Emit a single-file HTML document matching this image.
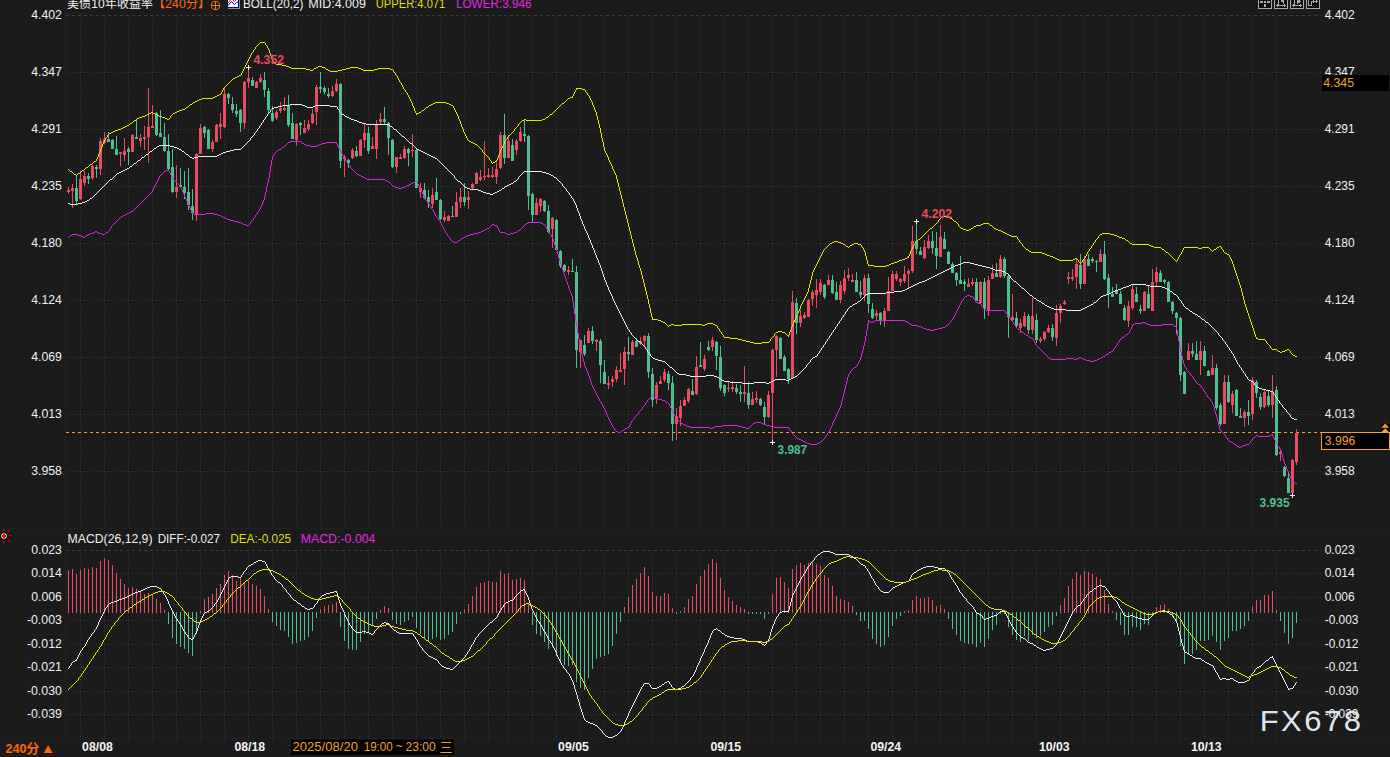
<!DOCTYPE html>
<html><head><meta charset="utf-8"><title>chart</title>
<style>html,body{margin:0;padding:0;background:#1b1b1b;width:1390px;height:757px;overflow:hidden}svg{display:block}text{white-space:pre}</style></head>
<body>
<svg width="1390" height="757" viewBox="0 0 1390 757" style="position:absolute;left:0;top:0;font-family:'Liberation Sans',sans-serif;font-size:12px">
<rect width="1390" height="757" fill="#1b1b1b"/>
<g shape-rendering="crispEdges" stroke="#363636" stroke-width="1" fill="none">
<line x1="66" x2="1321" y1="72.5" y2="72.5" stroke-dasharray="1 2"/>
<line x1="66" x2="1321" y1="129.5" y2="129.5" stroke-dasharray="1 2"/>
<line x1="66" x2="1321" y1="186.5" y2="186.5" stroke-dasharray="1 2"/>
<line x1="66" x2="1321" y1="243.5" y2="243.5" stroke-dasharray="1 2"/>
<line x1="66" x2="1321" y1="300.5" y2="300.5" stroke-dasharray="1 2"/>
<line x1="66" x2="1321" y1="357.5" y2="357.5" stroke-dasharray="1 2"/>
<line x1="66" x2="1321" y1="414.5" y2="414.5" stroke-dasharray="1 2"/>
<line x1="66" x2="1321" y1="471.5" y2="471.5" stroke-dasharray="1 2"/>
<line x1="66" x2="1321" y1="15.5" y2="15.5" stroke-dasharray="3 3" stroke="#3c3c3c"/>
<line x1="66" x2="1321" y1="573.5" y2="573.5" stroke-dasharray="1 2"/>
<line x1="66" x2="1321" y1="597.5" y2="597.5" stroke-dasharray="1 2"/>
<line x1="66" x2="1321" y1="620.5" y2="620.5" stroke-dasharray="1 2"/>
<line x1="66" x2="1321" y1="644.5" y2="644.5" stroke-dasharray="1 2"/>
<line x1="66" x2="1321" y1="667.5" y2="667.5" stroke-dasharray="1 2"/>
<line x1="66" x2="1321" y1="691.5" y2="691.5" stroke-dasharray="1 2"/>
<line x1="66" x2="1321" y1="714.5" y2="714.5" stroke-dasharray="1 2"/>
<line x1="66" x2="1321" y1="550.5" y2="550.5" stroke-dasharray="3 3" stroke="#3c3c3c"/>
<line y1="18" y2="528" x1="80.5" x2="80.5" stroke-dasharray="1 2"/>
<line y1="553" y2="738" x1="80.5" x2="80.5" stroke-dasharray="1 2"/>
<line y1="739" y2="744" x1="80.5" x2="80.5" stroke="#202020"/>
<line y1="18" y2="528" x1="104.5" x2="104.5" stroke-dasharray="1 2"/>
<line y1="553" y2="738" x1="104.5" x2="104.5" stroke-dasharray="1 2"/>
<line y1="739" y2="744" x1="104.5" x2="104.5" stroke="#202020"/>
<line y1="18" y2="528" x1="128.5" x2="128.5" stroke-dasharray="1 2"/>
<line y1="553" y2="738" x1="128.5" x2="128.5" stroke-dasharray="1 2"/>
<line y1="739" y2="744" x1="128.5" x2="128.5" stroke="#202020"/>
<line y1="18" y2="528" x1="152.5" x2="152.5" stroke-dasharray="1 2"/>
<line y1="553" y2="738" x1="152.5" x2="152.5" stroke-dasharray="1 2"/>
<line y1="739" y2="744" x1="152.5" x2="152.5" stroke="#202020"/>
<line y1="18" y2="528" x1="176.5" x2="176.5" stroke-dasharray="1 2"/>
<line y1="553" y2="738" x1="176.5" x2="176.5" stroke-dasharray="1 2"/>
<line y1="739" y2="744" x1="176.5" x2="176.5" stroke="#202020"/>
<line y1="18" y2="528" x1="200.5" x2="200.5" stroke-dasharray="1 2"/>
<line y1="553" y2="738" x1="200.5" x2="200.5" stroke-dasharray="1 2"/>
<line y1="739" y2="744" x1="200.5" x2="200.5" stroke="#202020"/>
<line y1="18" y2="528" x1="224.5" x2="224.5" stroke-dasharray="1 2"/>
<line y1="553" y2="738" x1="224.5" x2="224.5" stroke-dasharray="1 2"/>
<line y1="739" y2="744" x1="224.5" x2="224.5" stroke="#202020"/>
<line y1="18" y2="528" x1="248.5" x2="248.5" stroke-dasharray="1 2"/>
<line y1="553" y2="738" x1="248.5" x2="248.5" stroke-dasharray="1 2"/>
<line y1="739" y2="744" x1="248.5" x2="248.5" stroke="#202020"/>
<line y1="18" y2="528" x1="272.5" x2="272.5" stroke-dasharray="1 2"/>
<line y1="553" y2="738" x1="272.5" x2="272.5" stroke-dasharray="1 2"/>
<line y1="739" y2="744" x1="272.5" x2="272.5" stroke="#202020"/>
<line y1="18" y2="528" x1="296.5" x2="296.5" stroke-dasharray="1 2"/>
<line y1="553" y2="738" x1="296.5" x2="296.5" stroke-dasharray="1 2"/>
<line y1="739" y2="744" x1="296.5" x2="296.5" stroke="#202020"/>
<line y1="18" y2="528" x1="320.5" x2="320.5" stroke-dasharray="1 2"/>
<line y1="553" y2="738" x1="320.5" x2="320.5" stroke-dasharray="1 2"/>
<line y1="739" y2="744" x1="320.5" x2="320.5" stroke="#202020"/>
<line y1="18" y2="528" x1="344.5" x2="344.5" stroke-dasharray="1 2"/>
<line y1="553" y2="738" x1="344.5" x2="344.5" stroke-dasharray="1 2"/>
<line y1="739" y2="744" x1="344.5" x2="344.5" stroke="#202020"/>
<line y1="18" y2="528" x1="368.5" x2="368.5" stroke-dasharray="1 2"/>
<line y1="553" y2="738" x1="368.5" x2="368.5" stroke-dasharray="1 2"/>
<line y1="739" y2="744" x1="368.5" x2="368.5" stroke="#202020"/>
<line y1="18" y2="528" x1="392.5" x2="392.5" stroke-dasharray="1 2"/>
<line y1="553" y2="738" x1="392.5" x2="392.5" stroke-dasharray="1 2"/>
<line y1="739" y2="744" x1="392.5" x2="392.5" stroke="#202020"/>
<line y1="18" y2="528" x1="416.5" x2="416.5" stroke-dasharray="1 2"/>
<line y1="553" y2="738" x1="416.5" x2="416.5" stroke-dasharray="1 2"/>
<line y1="739" y2="744" x1="416.5" x2="416.5" stroke="#202020"/>
<line y1="18" y2="528" x1="440.5" x2="440.5" stroke-dasharray="1 2"/>
<line y1="553" y2="738" x1="440.5" x2="440.5" stroke-dasharray="1 2"/>
<line y1="739" y2="744" x1="440.5" x2="440.5" stroke="#202020"/>
<line y1="18" y2="528" x1="464.5" x2="464.5" stroke-dasharray="1 2"/>
<line y1="553" y2="738" x1="464.5" x2="464.5" stroke-dasharray="1 2"/>
<line y1="739" y2="744" x1="464.5" x2="464.5" stroke="#202020"/>
<line y1="18" y2="528" x1="488.5" x2="488.5" stroke-dasharray="1 2"/>
<line y1="553" y2="738" x1="488.5" x2="488.5" stroke-dasharray="1 2"/>
<line y1="739" y2="744" x1="488.5" x2="488.5" stroke="#202020"/>
<line y1="18" y2="528" x1="508.5" x2="508.5" stroke-dasharray="1 2"/>
<line y1="553" y2="738" x1="508.5" x2="508.5" stroke-dasharray="1 2"/>
<line y1="739" y2="744" x1="508.5" x2="508.5" stroke="#202020"/>
<line y1="18" y2="528" x1="532.5" x2="532.5" stroke-dasharray="1 2"/>
<line y1="553" y2="738" x1="532.5" x2="532.5" stroke-dasharray="1 2"/>
<line y1="739" y2="744" x1="532.5" x2="532.5" stroke="#202020"/>
<line y1="18" y2="528" x1="556.5" x2="556.5" stroke-dasharray="1 2"/>
<line y1="553" y2="738" x1="556.5" x2="556.5" stroke-dasharray="1 2"/>
<line y1="739" y2="744" x1="556.5" x2="556.5" stroke="#202020"/>
<line y1="18" y2="528" x1="580.5" x2="580.5" stroke-dasharray="1 2"/>
<line y1="553" y2="738" x1="580.5" x2="580.5" stroke-dasharray="1 2"/>
<line y1="739" y2="744" x1="580.5" x2="580.5" stroke="#202020"/>
<line y1="18" y2="528" x1="604.5" x2="604.5" stroke-dasharray="1 2"/>
<line y1="553" y2="738" x1="604.5" x2="604.5" stroke-dasharray="1 2"/>
<line y1="739" y2="744" x1="604.5" x2="604.5" stroke="#202020"/>
<line y1="18" y2="528" x1="628.5" x2="628.5" stroke-dasharray="1 2"/>
<line y1="553" y2="738" x1="628.5" x2="628.5" stroke-dasharray="1 2"/>
<line y1="739" y2="744" x1="628.5" x2="628.5" stroke="#202020"/>
<line y1="18" y2="528" x1="652.5" x2="652.5" stroke-dasharray="1 2"/>
<line y1="553" y2="738" x1="652.5" x2="652.5" stroke-dasharray="1 2"/>
<line y1="739" y2="744" x1="652.5" x2="652.5" stroke="#202020"/>
<line y1="18" y2="528" x1="676.5" x2="676.5" stroke-dasharray="1 2"/>
<line y1="553" y2="738" x1="676.5" x2="676.5" stroke-dasharray="1 2"/>
<line y1="739" y2="744" x1="676.5" x2="676.5" stroke="#202020"/>
<line y1="18" y2="528" x1="700.5" x2="700.5" stroke-dasharray="1 2"/>
<line y1="553" y2="738" x1="700.5" x2="700.5" stroke-dasharray="1 2"/>
<line y1="739" y2="744" x1="700.5" x2="700.5" stroke="#202020"/>
<line y1="18" y2="528" x1="724.5" x2="724.5" stroke-dasharray="1 2"/>
<line y1="553" y2="738" x1="724.5" x2="724.5" stroke-dasharray="1 2"/>
<line y1="739" y2="744" x1="724.5" x2="724.5" stroke="#202020"/>
<line y1="18" y2="528" x1="748.5" x2="748.5" stroke-dasharray="1 2"/>
<line y1="553" y2="738" x1="748.5" x2="748.5" stroke-dasharray="1 2"/>
<line y1="739" y2="744" x1="748.5" x2="748.5" stroke="#202020"/>
<line y1="18" y2="528" x1="772.5" x2="772.5" stroke-dasharray="1 2"/>
<line y1="553" y2="738" x1="772.5" x2="772.5" stroke-dasharray="1 2"/>
<line y1="739" y2="744" x1="772.5" x2="772.5" stroke="#202020"/>
<line y1="18" y2="528" x1="796.5" x2="796.5" stroke-dasharray="1 2"/>
<line y1="553" y2="738" x1="796.5" x2="796.5" stroke-dasharray="1 2"/>
<line y1="739" y2="744" x1="796.5" x2="796.5" stroke="#202020"/>
<line y1="18" y2="528" x1="820.5" x2="820.5" stroke-dasharray="1 2"/>
<line y1="553" y2="738" x1="820.5" x2="820.5" stroke-dasharray="1 2"/>
<line y1="739" y2="744" x1="820.5" x2="820.5" stroke="#202020"/>
<line y1="18" y2="528" x1="844.5" x2="844.5" stroke-dasharray="1 2"/>
<line y1="553" y2="738" x1="844.5" x2="844.5" stroke-dasharray="1 2"/>
<line y1="739" y2="744" x1="844.5" x2="844.5" stroke="#202020"/>
<line y1="18" y2="528" x1="868.5" x2="868.5" stroke-dasharray="1 2"/>
<line y1="553" y2="738" x1="868.5" x2="868.5" stroke-dasharray="1 2"/>
<line y1="739" y2="744" x1="868.5" x2="868.5" stroke="#202020"/>
<line y1="18" y2="528" x1="892.5" x2="892.5" stroke-dasharray="1 2"/>
<line y1="553" y2="738" x1="892.5" x2="892.5" stroke-dasharray="1 2"/>
<line y1="739" y2="744" x1="892.5" x2="892.5" stroke="#202020"/>
<line y1="18" y2="528" x1="916.5" x2="916.5" stroke-dasharray="1 2"/>
<line y1="553" y2="738" x1="916.5" x2="916.5" stroke-dasharray="1 2"/>
<line y1="739" y2="744" x1="916.5" x2="916.5" stroke="#202020"/>
<line y1="18" y2="528" x1="940.5" x2="940.5" stroke-dasharray="1 2"/>
<line y1="553" y2="738" x1="940.5" x2="940.5" stroke-dasharray="1 2"/>
<line y1="739" y2="744" x1="940.5" x2="940.5" stroke="#202020"/>
<line y1="18" y2="528" x1="964.5" x2="964.5" stroke-dasharray="1 2"/>
<line y1="553" y2="738" x1="964.5" x2="964.5" stroke-dasharray="1 2"/>
<line y1="739" y2="744" x1="964.5" x2="964.5" stroke="#202020"/>
<line y1="18" y2="528" x1="988.5" x2="988.5" stroke-dasharray="1 2"/>
<line y1="553" y2="738" x1="988.5" x2="988.5" stroke-dasharray="1 2"/>
<line y1="739" y2="744" x1="988.5" x2="988.5" stroke="#202020"/>
<line y1="18" y2="528" x1="1012.5" x2="1012.5" stroke-dasharray="1 2"/>
<line y1="553" y2="738" x1="1012.5" x2="1012.5" stroke-dasharray="1 2"/>
<line y1="739" y2="744" x1="1012.5" x2="1012.5" stroke="#202020"/>
<line y1="18" y2="528" x1="1036.5" x2="1036.5" stroke-dasharray="1 2"/>
<line y1="553" y2="738" x1="1036.5" x2="1036.5" stroke-dasharray="1 2"/>
<line y1="739" y2="744" x1="1036.5" x2="1036.5" stroke="#202020"/>
<line y1="18" y2="528" x1="1060.5" x2="1060.5" stroke-dasharray="1 2"/>
<line y1="553" y2="738" x1="1060.5" x2="1060.5" stroke-dasharray="1 2"/>
<line y1="739" y2="744" x1="1060.5" x2="1060.5" stroke="#202020"/>
<line y1="18" y2="528" x1="1084.5" x2="1084.5" stroke-dasharray="1 2"/>
<line y1="553" y2="738" x1="1084.5" x2="1084.5" stroke-dasharray="1 2"/>
<line y1="739" y2="744" x1="1084.5" x2="1084.5" stroke="#202020"/>
<line y1="18" y2="528" x1="1108.5" x2="1108.5" stroke-dasharray="1 2"/>
<line y1="553" y2="738" x1="1108.5" x2="1108.5" stroke-dasharray="1 2"/>
<line y1="739" y2="744" x1="1108.5" x2="1108.5" stroke="#202020"/>
<line y1="18" y2="528" x1="1132.5" x2="1132.5" stroke-dasharray="1 2"/>
<line y1="553" y2="738" x1="1132.5" x2="1132.5" stroke-dasharray="1 2"/>
<line y1="739" y2="744" x1="1132.5" x2="1132.5" stroke="#202020"/>
<line y1="18" y2="528" x1="1156.5" x2="1156.5" stroke-dasharray="1 2"/>
<line y1="553" y2="738" x1="1156.5" x2="1156.5" stroke-dasharray="1 2"/>
<line y1="739" y2="744" x1="1156.5" x2="1156.5" stroke="#202020"/>
<line y1="18" y2="528" x1="1180.5" x2="1180.5" stroke-dasharray="1 2"/>
<line y1="553" y2="738" x1="1180.5" x2="1180.5" stroke-dasharray="1 2"/>
<line y1="739" y2="744" x1="1180.5" x2="1180.5" stroke="#202020"/>
<line y1="18" y2="528" x1="1204.5" x2="1204.5" stroke-dasharray="1 2"/>
<line y1="553" y2="738" x1="1204.5" x2="1204.5" stroke-dasharray="1 2"/>
<line y1="739" y2="744" x1="1204.5" x2="1204.5" stroke="#202020"/>
<line y1="18" y2="528" x1="1228.5" x2="1228.5" stroke-dasharray="1 2"/>
<line y1="553" y2="738" x1="1228.5" x2="1228.5" stroke-dasharray="1 2"/>
<line y1="739" y2="744" x1="1228.5" x2="1228.5" stroke="#202020"/>
<line y1="18" y2="528" x1="1252.5" x2="1252.5" stroke-dasharray="1 2"/>
<line y1="553" y2="738" x1="1252.5" x2="1252.5" stroke-dasharray="1 2"/>
<line y1="739" y2="744" x1="1252.5" x2="1252.5" stroke="#202020"/>
<line y1="18" y2="528" x1="1276.5" x2="1276.5" stroke-dasharray="1 2"/>
<line y1="553" y2="738" x1="1276.5" x2="1276.5" stroke-dasharray="1 2"/>
<line y1="739" y2="744" x1="1276.5" x2="1276.5" stroke="#202020"/>
</g>
<g shape-rendering="crispEdges" stroke="#202020" stroke-width="1"><line x1="0" x2="1390" y1="738.5" y2="738.5"/><line x1="65.5" x2="65.5" y1="10" y2="738"/><line x1="0" x2="1390" y1="528.5" y2="528.5"/></g>
<line x1="66" x2="1321" y1="432.5" y2="432.5" stroke="#f0a030" stroke-width="1" stroke-dasharray="3 3" shape-rendering="crispEdges"/>
<g shape-rendering="crispEdges">
<rect x="68" y="187" width="1" height="7" fill="#ea4d5f"/>
<rect x="67" y="190" width="3" height="2" fill="#ea4d5f"/>
<rect x="72" y="184" width="1" height="24" fill="#ea4d5f"/>
<rect x="71" y="188" width="3" height="3" fill="#ea4d5f"/>
<rect x="76" y="176" width="1" height="28" fill="#4fbf8f"/>
<rect x="75" y="188" width="3" height="13" fill="#4fbf8f"/>
<rect x="80" y="171" width="1" height="29" fill="#ea4d5f"/>
<rect x="79" y="179" width="3" height="20" fill="#ea4d5f"/>
<rect x="84" y="171" width="1" height="15" fill="#ea4d5f"/>
<rect x="83" y="176" width="3" height="7" fill="#ea4d5f"/>
<rect x="88" y="173" width="1" height="11" fill="#4fbf8f"/>
<rect x="87" y="176" width="3" height="3" fill="#4fbf8f"/>
<rect x="92" y="165" width="1" height="15" fill="#ea4d5f"/>
<rect x="91" y="166" width="3" height="12" fill="#ea4d5f"/>
<rect x="96" y="165" width="1" height="13" fill="#4fbf8f"/>
<rect x="95" y="167" width="3" height="2" fill="#4fbf8f"/>
<rect x="100" y="138" width="1" height="37" fill="#ea4d5f"/>
<rect x="99" y="141" width="3" height="28" fill="#ea4d5f"/>
<rect x="104" y="132" width="1" height="12" fill="#ea4d5f"/>
<rect x="103" y="139" width="3" height="4" fill="#ea4d5f"/>
<rect x="108" y="132" width="1" height="10" fill="#4fbf8f"/>
<rect x="107" y="139" width="3" height="3" fill="#4fbf8f"/>
<rect x="112" y="139" width="1" height="10" fill="#4fbf8f"/>
<rect x="111" y="140" width="3" height="9" fill="#4fbf8f"/>
<rect x="116" y="136" width="1" height="19" fill="#4fbf8f"/>
<rect x="115" y="149" width="3" height="6" fill="#4fbf8f"/>
<rect x="120" y="152" width="1" height="14" fill="#ea4d5f"/>
<rect x="119" y="152" width="3" height="2" fill="#ea4d5f"/>
<rect x="124" y="138" width="1" height="23" fill="#ea4d5f"/>
<rect x="123" y="151" width="3" height="4" fill="#ea4d5f"/>
<rect x="128" y="147" width="1" height="18" fill="#4fbf8f"/>
<rect x="127" y="149" width="3" height="3" fill="#4fbf8f"/>
<rect x="132" y="134" width="1" height="18" fill="#ea4d5f"/>
<rect x="131" y="135" width="3" height="17" fill="#ea4d5f"/>
<rect x="136" y="120" width="1" height="19" fill="#4fbf8f"/>
<rect x="135" y="137" width="3" height="2" fill="#4fbf8f"/>
<rect x="140" y="134" width="1" height="13" fill="#ea4d5f"/>
<rect x="139" y="138" width="3" height="3" fill="#ea4d5f"/>
<rect x="144" y="126" width="1" height="24" fill="#ea4d5f"/>
<rect x="143" y="137" width="3" height="2" fill="#ea4d5f"/>
<rect x="148" y="88" width="1" height="75" fill="#ea4d5f"/>
<rect x="147" y="127" width="3" height="10" fill="#ea4d5f"/>
<rect x="152" y="105" width="1" height="23" fill="#ea4d5f"/>
<rect x="151" y="126" width="3" height="2" fill="#ea4d5f"/>
<rect x="156" y="112" width="1" height="24" fill="#4fbf8f"/>
<rect x="155" y="113" width="3" height="22" fill="#4fbf8f"/>
<rect x="160" y="110" width="1" height="27" fill="#4fbf8f"/>
<rect x="159" y="133" width="3" height="4" fill="#4fbf8f"/>
<rect x="164" y="123" width="1" height="29" fill="#4fbf8f"/>
<rect x="163" y="137" width="3" height="14" fill="#4fbf8f"/>
<rect x="168" y="134" width="1" height="36" fill="#4fbf8f"/>
<rect x="167" y="151" width="3" height="18" fill="#4fbf8f"/>
<rect x="172" y="149" width="1" height="44" fill="#4fbf8f"/>
<rect x="171" y="167" width="3" height="25" fill="#4fbf8f"/>
<rect x="176" y="165" width="1" height="33" fill="#ea4d5f"/>
<rect x="175" y="187" width="3" height="5" fill="#ea4d5f"/>
<rect x="180" y="168" width="1" height="20" fill="#4fbf8f"/>
<rect x="179" y="185" width="3" height="2" fill="#4fbf8f"/>
<rect x="184" y="171" width="1" height="28" fill="#4fbf8f"/>
<rect x="183" y="187" width="3" height="6" fill="#4fbf8f"/>
<rect x="188" y="168" width="1" height="42" fill="#4fbf8f"/>
<rect x="187" y="192" width="3" height="13" fill="#4fbf8f"/>
<rect x="192" y="189" width="1" height="31" fill="#4fbf8f"/>
<rect x="191" y="206" width="3" height="7" fill="#4fbf8f"/>
<rect x="196" y="153" width="1" height="68" fill="#ea4d5f"/>
<rect x="195" y="154" width="3" height="60" fill="#ea4d5f"/>
<rect x="200" y="124" width="1" height="30" fill="#ea4d5f"/>
<rect x="199" y="128" width="3" height="26" fill="#ea4d5f"/>
<rect x="204" y="126" width="1" height="12" fill="#4fbf8f"/>
<rect x="203" y="127" width="3" height="6" fill="#4fbf8f"/>
<rect x="208" y="129" width="1" height="20" fill="#4fbf8f"/>
<rect x="207" y="130" width="3" height="19" fill="#4fbf8f"/>
<rect x="212" y="140" width="1" height="12" fill="#ea4d5f"/>
<rect x="211" y="142" width="3" height="7" fill="#ea4d5f"/>
<rect x="216" y="124" width="1" height="18" fill="#ea4d5f"/>
<rect x="215" y="125" width="3" height="17" fill="#ea4d5f"/>
<rect x="220" y="113" width="1" height="26" fill="#ea4d5f"/>
<rect x="219" y="124" width="3" height="3" fill="#ea4d5f"/>
<rect x="224" y="88" width="1" height="40" fill="#ea4d5f"/>
<rect x="223" y="94" width="3" height="33" fill="#ea4d5f"/>
<rect x="228" y="93" width="1" height="11" fill="#4fbf8f"/>
<rect x="227" y="94" width="3" height="4" fill="#4fbf8f"/>
<rect x="232" y="97" width="1" height="16" fill="#4fbf8f"/>
<rect x="231" y="104" width="3" height="6" fill="#4fbf8f"/>
<rect x="236" y="104" width="1" height="13" fill="#4fbf8f"/>
<rect x="235" y="111" width="3" height="3" fill="#4fbf8f"/>
<rect x="240" y="109" width="1" height="23" fill="#4fbf8f"/>
<rect x="239" y="110" width="3" height="13" fill="#4fbf8f"/>
<rect x="244" y="81" width="1" height="48" fill="#ea4d5f"/>
<rect x="243" y="82" width="3" height="41" fill="#ea4d5f"/>
<rect x="248" y="67" width="1" height="21" fill="#ea4d5f"/>
<rect x="247" y="78" width="3" height="4" fill="#ea4d5f"/>
<rect x="252" y="77" width="1" height="9" fill="#4fbf8f"/>
<rect x="251" y="80" width="3" height="6" fill="#4fbf8f"/>
<rect x="256" y="81" width="1" height="7" fill="#ea4d5f"/>
<rect x="255" y="82" width="3" height="6" fill="#ea4d5f"/>
<rect x="260" y="74" width="1" height="9" fill="#ea4d5f"/>
<rect x="259" y="78" width="3" height="4" fill="#ea4d5f"/>
<rect x="264" y="72" width="1" height="25" fill="#4fbf8f"/>
<rect x="263" y="80" width="3" height="10" fill="#4fbf8f"/>
<rect x="268" y="88" width="1" height="25" fill="#4fbf8f"/>
<rect x="267" y="91" width="3" height="19" fill="#4fbf8f"/>
<rect x="272" y="106" width="1" height="16" fill="#4fbf8f"/>
<rect x="271" y="113" width="3" height="8" fill="#4fbf8f"/>
<rect x="276" y="110" width="1" height="10" fill="#ea4d5f"/>
<rect x="275" y="112" width="3" height="6" fill="#ea4d5f"/>
<rect x="280" y="102" width="1" height="11" fill="#ea4d5f"/>
<rect x="279" y="108" width="3" height="3" fill="#ea4d5f"/>
<rect x="284" y="97" width="1" height="14" fill="#ea4d5f"/>
<rect x="283" y="108" width="3" height="2" fill="#ea4d5f"/>
<rect x="288" y="95" width="1" height="32" fill="#4fbf8f"/>
<rect x="287" y="105" width="3" height="20" fill="#4fbf8f"/>
<rect x="292" y="113" width="1" height="26" fill="#4fbf8f"/>
<rect x="291" y="123" width="3" height="16" fill="#4fbf8f"/>
<rect x="296" y="123" width="1" height="23" fill="#ea4d5f"/>
<rect x="295" y="124" width="3" height="16" fill="#ea4d5f"/>
<rect x="300" y="122" width="1" height="13" fill="#4fbf8f"/>
<rect x="299" y="123" width="3" height="2" fill="#4fbf8f"/>
<rect x="304" y="120" width="1" height="13" fill="#ea4d5f"/>
<rect x="303" y="128" width="3" height="5" fill="#ea4d5f"/>
<rect x="308" y="120" width="1" height="11" fill="#ea4d5f"/>
<rect x="307" y="124" width="3" height="5" fill="#ea4d5f"/>
<rect x="312" y="109" width="1" height="15" fill="#ea4d5f"/>
<rect x="311" y="114" width="3" height="9" fill="#ea4d5f"/>
<rect x="316" y="85" width="1" height="40" fill="#ea4d5f"/>
<rect x="315" y="87" width="3" height="25" fill="#ea4d5f"/>
<rect x="320" y="72" width="1" height="21" fill="#4fbf8f"/>
<rect x="319" y="87" width="3" height="2" fill="#4fbf8f"/>
<rect x="324" y="86" width="1" height="8" fill="#4fbf8f"/>
<rect x="323" y="88" width="3" height="4" fill="#4fbf8f"/>
<rect x="328" y="88" width="1" height="10" fill="#4fbf8f"/>
<rect x="327" y="94" width="3" height="2" fill="#4fbf8f"/>
<rect x="332" y="86" width="1" height="11" fill="#ea4d5f"/>
<rect x="331" y="91" width="3" height="5" fill="#ea4d5f"/>
<rect x="336" y="79" width="1" height="13" fill="#ea4d5f"/>
<rect x="335" y="84" width="3" height="7" fill="#ea4d5f"/>
<rect x="340" y="83" width="1" height="85" fill="#4fbf8f"/>
<rect x="339" y="84" width="3" height="77" fill="#4fbf8f"/>
<rect x="344" y="155" width="1" height="22" fill="#ea4d5f"/>
<rect x="343" y="157" width="3" height="2" fill="#ea4d5f"/>
<rect x="348" y="159" width="1" height="9" fill="#4fbf8f"/>
<rect x="347" y="160" width="3" height="3" fill="#4fbf8f"/>
<rect x="352" y="148" width="1" height="11" fill="#ea4d5f"/>
<rect x="351" y="150" width="3" height="8" fill="#ea4d5f"/>
<rect x="356" y="146" width="1" height="11" fill="#4fbf8f"/>
<rect x="355" y="151" width="3" height="5" fill="#4fbf8f"/>
<rect x="360" y="139" width="1" height="17" fill="#ea4d5f"/>
<rect x="359" y="140" width="3" height="16" fill="#ea4d5f"/>
<rect x="364" y="124" width="1" height="24" fill="#ea4d5f"/>
<rect x="363" y="133" width="3" height="7" fill="#ea4d5f"/>
<rect x="368" y="127" width="1" height="27" fill="#4fbf8f"/>
<rect x="367" y="133" width="3" height="18" fill="#4fbf8f"/>
<rect x="372" y="137" width="1" height="12" fill="#ea4d5f"/>
<rect x="371" y="146" width="3" height="3" fill="#ea4d5f"/>
<rect x="376" y="120" width="1" height="39" fill="#ea4d5f"/>
<rect x="375" y="124" width="3" height="25" fill="#ea4d5f"/>
<rect x="380" y="113" width="1" height="11" fill="#ea4d5f"/>
<rect x="379" y="119" width="3" height="3" fill="#ea4d5f"/>
<rect x="384" y="107" width="1" height="17" fill="#4fbf8f"/>
<rect x="383" y="119" width="3" height="3" fill="#4fbf8f"/>
<rect x="388" y="122" width="1" height="33" fill="#4fbf8f"/>
<rect x="387" y="123" width="3" height="15" fill="#4fbf8f"/>
<rect x="392" y="139" width="1" height="29" fill="#4fbf8f"/>
<rect x="391" y="140" width="3" height="27" fill="#4fbf8f"/>
<rect x="396" y="157" width="1" height="16" fill="#ea4d5f"/>
<rect x="395" y="157" width="3" height="10" fill="#ea4d5f"/>
<rect x="400" y="154" width="1" height="5" fill="#ea4d5f"/>
<rect x="399" y="157" width="3" height="2" fill="#ea4d5f"/>
<rect x="404" y="146" width="1" height="13" fill="#ea4d5f"/>
<rect x="403" y="149" width="3" height="9" fill="#ea4d5f"/>
<rect x="408" y="148" width="1" height="18" fill="#4fbf8f"/>
<rect x="407" y="149" width="3" height="4" fill="#4fbf8f"/>
<rect x="412" y="134" width="1" height="23" fill="#ea4d5f"/>
<rect x="411" y="150" width="3" height="1" fill="#ea4d5f"/>
<rect x="416" y="148" width="1" height="40" fill="#4fbf8f"/>
<rect x="415" y="150" width="3" height="38" fill="#4fbf8f"/>
<rect x="420" y="183" width="1" height="15" fill="#ea4d5f"/>
<rect x="419" y="188" width="3" height="4" fill="#ea4d5f"/>
<rect x="424" y="183" width="1" height="16" fill="#4fbf8f"/>
<rect x="423" y="190" width="3" height="8" fill="#4fbf8f"/>
<rect x="428" y="190" width="1" height="18" fill="#4fbf8f"/>
<rect x="427" y="197" width="3" height="5" fill="#4fbf8f"/>
<rect x="432" y="188" width="1" height="20" fill="#ea4d5f"/>
<rect x="431" y="195" width="3" height="9" fill="#ea4d5f"/>
<rect x="436" y="178" width="1" height="22" fill="#4fbf8f"/>
<rect x="435" y="192" width="3" height="8" fill="#4fbf8f"/>
<rect x="440" y="199" width="1" height="21" fill="#4fbf8f"/>
<rect x="439" y="200" width="3" height="19" fill="#4fbf8f"/>
<rect x="444" y="211" width="1" height="11" fill="#ea4d5f"/>
<rect x="443" y="217" width="3" height="3" fill="#ea4d5f"/>
<rect x="448" y="215" width="1" height="6" fill="#ea4d5f"/>
<rect x="447" y="216" width="3" height="5" fill="#ea4d5f"/>
<rect x="452" y="206" width="1" height="11" fill="#4fbf8f"/>
<rect x="451" y="216" width="3" height="1" fill="#4fbf8f"/>
<rect x="456" y="192" width="1" height="25" fill="#ea4d5f"/>
<rect x="455" y="202" width="3" height="15" fill="#ea4d5f"/>
<rect x="460" y="188" width="1" height="20" fill="#ea4d5f"/>
<rect x="459" y="197" width="3" height="5" fill="#ea4d5f"/>
<rect x="464" y="183" width="1" height="23" fill="#4fbf8f"/>
<rect x="463" y="197" width="3" height="5" fill="#4fbf8f"/>
<rect x="468" y="191" width="1" height="18" fill="#ea4d5f"/>
<rect x="467" y="197" width="3" height="3" fill="#ea4d5f"/>
<rect x="472" y="183" width="1" height="6" fill="#ea4d5f"/>
<rect x="471" y="184" width="3" height="4" fill="#ea4d5f"/>
<rect x="476" y="172" width="1" height="12" fill="#ea4d5f"/>
<rect x="475" y="173" width="3" height="11" fill="#ea4d5f"/>
<rect x="480" y="170" width="1" height="11" fill="#ea4d5f"/>
<rect x="479" y="177" width="3" height="3" fill="#ea4d5f"/>
<rect x="484" y="141" width="1" height="39" fill="#ea4d5f"/>
<rect x="483" y="176" width="3" height="1" fill="#ea4d5f"/>
<rect x="488" y="168" width="1" height="10" fill="#ea4d5f"/>
<rect x="487" y="175" width="3" height="2" fill="#ea4d5f"/>
<rect x="492" y="167" width="1" height="11" fill="#ea4d5f"/>
<rect x="491" y="175" width="3" height="2" fill="#ea4d5f"/>
<rect x="496" y="163" width="1" height="21" fill="#ea4d5f"/>
<rect x="495" y="169" width="3" height="8" fill="#ea4d5f"/>
<rect x="500" y="132" width="1" height="37" fill="#ea4d5f"/>
<rect x="499" y="135" width="3" height="33" fill="#ea4d5f"/>
<rect x="504" y="114" width="1" height="50" fill="#4fbf8f"/>
<rect x="503" y="135" width="3" height="23" fill="#4fbf8f"/>
<rect x="508" y="135" width="1" height="23" fill="#ea4d5f"/>
<rect x="507" y="141" width="3" height="17" fill="#ea4d5f"/>
<rect x="512" y="139" width="1" height="22" fill="#4fbf8f"/>
<rect x="511" y="145" width="3" height="16" fill="#4fbf8f"/>
<rect x="516" y="139" width="1" height="16" fill="#ea4d5f"/>
<rect x="515" y="141" width="3" height="9" fill="#ea4d5f"/>
<rect x="520" y="127" width="1" height="15" fill="#ea4d5f"/>
<rect x="519" y="132" width="3" height="9" fill="#ea4d5f"/>
<rect x="524" y="120" width="1" height="22" fill="#4fbf8f"/>
<rect x="523" y="134" width="3" height="2" fill="#4fbf8f"/>
<rect x="528" y="135" width="1" height="75" fill="#4fbf8f"/>
<rect x="527" y="136" width="3" height="60" fill="#4fbf8f"/>
<rect x="532" y="193" width="1" height="30" fill="#4fbf8f"/>
<rect x="531" y="194" width="3" height="21" fill="#4fbf8f"/>
<rect x="536" y="198" width="1" height="17" fill="#ea4d5f"/>
<rect x="535" y="203" width="3" height="12" fill="#ea4d5f"/>
<rect x="540" y="198" width="1" height="14" fill="#ea4d5f"/>
<rect x="539" y="199" width="3" height="7" fill="#ea4d5f"/>
<rect x="544" y="200" width="1" height="12" fill="#4fbf8f"/>
<rect x="543" y="201" width="3" height="10" fill="#4fbf8f"/>
<rect x="548" y="205" width="1" height="28" fill="#4fbf8f"/>
<rect x="547" y="211" width="3" height="21" fill="#4fbf8f"/>
<rect x="552" y="217" width="1" height="31" fill="#ea4d5f"/>
<rect x="551" y="218" width="3" height="11" fill="#ea4d5f"/>
<rect x="556" y="219" width="1" height="32" fill="#4fbf8f"/>
<rect x="555" y="220" width="3" height="30" fill="#4fbf8f"/>
<rect x="560" y="250" width="1" height="18" fill="#4fbf8f"/>
<rect x="559" y="251" width="3" height="15" fill="#4fbf8f"/>
<rect x="564" y="264" width="1" height="8" fill="#4fbf8f"/>
<rect x="563" y="265" width="3" height="6" fill="#4fbf8f"/>
<rect x="568" y="266" width="1" height="9" fill="#ea4d5f"/>
<rect x="567" y="270" width="3" height="2" fill="#ea4d5f"/>
<rect x="572" y="259" width="1" height="13" fill="#4fbf8f"/>
<rect x="571" y="271" width="3" height="1" fill="#4fbf8f"/>
<rect x="576" y="266" width="1" height="102" fill="#4fbf8f"/>
<rect x="575" y="272" width="3" height="78" fill="#4fbf8f"/>
<rect x="580" y="340" width="1" height="28" fill="#ea4d5f"/>
<rect x="579" y="340" width="3" height="12" fill="#ea4d5f"/>
<rect x="584" y="335" width="1" height="21" fill="#4fbf8f"/>
<rect x="583" y="345" width="3" height="9" fill="#4fbf8f"/>
<rect x="588" y="328" width="1" height="15" fill="#ea4d5f"/>
<rect x="587" y="331" width="3" height="12" fill="#ea4d5f"/>
<rect x="592" y="326" width="1" height="18" fill="#4fbf8f"/>
<rect x="591" y="331" width="3" height="10" fill="#4fbf8f"/>
<rect x="596" y="339" width="1" height="12" fill="#ea4d5f"/>
<rect x="595" y="340" width="3" height="2" fill="#ea4d5f"/>
<rect x="600" y="339" width="1" height="44" fill="#4fbf8f"/>
<rect x="599" y="341" width="3" height="24" fill="#4fbf8f"/>
<rect x="604" y="360" width="1" height="24" fill="#4fbf8f"/>
<rect x="603" y="372" width="3" height="12" fill="#4fbf8f"/>
<rect x="608" y="376" width="1" height="13" fill="#ea4d5f"/>
<rect x="607" y="383" width="3" height="2" fill="#ea4d5f"/>
<rect x="612" y="376" width="1" height="11" fill="#ea4d5f"/>
<rect x="611" y="379" width="3" height="3" fill="#ea4d5f"/>
<rect x="616" y="366" width="1" height="16" fill="#ea4d5f"/>
<rect x="615" y="370" width="3" height="9" fill="#ea4d5f"/>
<rect x="620" y="353" width="1" height="19" fill="#ea4d5f"/>
<rect x="619" y="370" width="3" height="2" fill="#ea4d5f"/>
<rect x="624" y="347" width="1" height="38" fill="#ea4d5f"/>
<rect x="623" y="352" width="3" height="17" fill="#ea4d5f"/>
<rect x="628" y="337" width="1" height="24" fill="#4fbf8f"/>
<rect x="627" y="352" width="3" height="2" fill="#4fbf8f"/>
<rect x="632" y="340" width="1" height="15" fill="#ea4d5f"/>
<rect x="631" y="342" width="3" height="13" fill="#ea4d5f"/>
<rect x="636" y="338" width="1" height="9" fill="#4fbf8f"/>
<rect x="635" y="341" width="3" height="6" fill="#4fbf8f"/>
<rect x="640" y="337" width="1" height="8" fill="#ea4d5f"/>
<rect x="639" y="341" width="3" height="3" fill="#ea4d5f"/>
<rect x="644" y="335" width="1" height="12" fill="#ea4d5f"/>
<rect x="643" y="336" width="3" height="5" fill="#ea4d5f"/>
<rect x="648" y="333" width="1" height="45" fill="#4fbf8f"/>
<rect x="647" y="336" width="3" height="36" fill="#4fbf8f"/>
<rect x="652" y="368" width="1" height="39" fill="#4fbf8f"/>
<rect x="651" y="374" width="3" height="26" fill="#4fbf8f"/>
<rect x="656" y="382" width="1" height="22" fill="#ea4d5f"/>
<rect x="655" y="385" width="3" height="14" fill="#ea4d5f"/>
<rect x="660" y="376" width="1" height="8" fill="#ea4d5f"/>
<rect x="659" y="381" width="3" height="3" fill="#ea4d5f"/>
<rect x="664" y="369" width="1" height="13" fill="#ea4d5f"/>
<rect x="663" y="372" width="3" height="8" fill="#ea4d5f"/>
<rect x="668" y="371" width="1" height="19" fill="#4fbf8f"/>
<rect x="667" y="374" width="3" height="9" fill="#4fbf8f"/>
<rect x="672" y="376" width="1" height="65" fill="#4fbf8f"/>
<rect x="671" y="383" width="3" height="41" fill="#4fbf8f"/>
<rect x="676" y="408" width="1" height="32" fill="#ea4d5f"/>
<rect x="675" y="416" width="3" height="8" fill="#ea4d5f"/>
<rect x="680" y="400" width="1" height="26" fill="#ea4d5f"/>
<rect x="679" y="406" width="3" height="12" fill="#ea4d5f"/>
<rect x="684" y="397" width="1" height="9" fill="#ea4d5f"/>
<rect x="683" y="400" width="3" height="6" fill="#ea4d5f"/>
<rect x="688" y="388" width="1" height="15" fill="#ea4d5f"/>
<rect x="687" y="389" width="3" height="12" fill="#ea4d5f"/>
<rect x="692" y="379" width="1" height="16" fill="#4fbf8f"/>
<rect x="691" y="391" width="3" height="4" fill="#4fbf8f"/>
<rect x="696" y="356" width="1" height="39" fill="#ea4d5f"/>
<rect x="695" y="367" width="3" height="27" fill="#ea4d5f"/>
<rect x="700" y="342" width="1" height="25" fill="#4fbf8f"/>
<rect x="699" y="365" width="3" height="2" fill="#4fbf8f"/>
<rect x="704" y="355" width="1" height="16" fill="#ea4d5f"/>
<rect x="703" y="359" width="3" height="10" fill="#ea4d5f"/>
<rect x="708" y="341" width="1" height="10" fill="#4fbf8f"/>
<rect x="707" y="347" width="3" height="3" fill="#4fbf8f"/>
<rect x="712" y="337" width="1" height="14" fill="#ea4d5f"/>
<rect x="711" y="340" width="3" height="7" fill="#ea4d5f"/>
<rect x="716" y="341" width="1" height="29" fill="#4fbf8f"/>
<rect x="715" y="342" width="3" height="14" fill="#4fbf8f"/>
<rect x="720" y="346" width="1" height="45" fill="#4fbf8f"/>
<rect x="719" y="357" width="3" height="31" fill="#4fbf8f"/>
<rect x="724" y="384" width="1" height="12" fill="#4fbf8f"/>
<rect x="723" y="385" width="3" height="8" fill="#4fbf8f"/>
<rect x="728" y="382" width="1" height="10" fill="#ea4d5f"/>
<rect x="727" y="388" width="3" height="1" fill="#ea4d5f"/>
<rect x="732" y="381" width="1" height="11" fill="#ea4d5f"/>
<rect x="731" y="387" width="3" height="2" fill="#ea4d5f"/>
<rect x="736" y="384" width="1" height="10" fill="#4fbf8f"/>
<rect x="735" y="388" width="3" height="4" fill="#4fbf8f"/>
<rect x="740" y="385" width="1" height="17" fill="#4fbf8f"/>
<rect x="739" y="392" width="3" height="2" fill="#4fbf8f"/>
<rect x="744" y="366" width="1" height="36" fill="#ea4d5f"/>
<rect x="743" y="392" width="3" height="2" fill="#ea4d5f"/>
<rect x="748" y="382" width="1" height="27" fill="#4fbf8f"/>
<rect x="747" y="393" width="3" height="12" fill="#4fbf8f"/>
<rect x="752" y="392" width="1" height="13" fill="#ea4d5f"/>
<rect x="751" y="399" width="3" height="6" fill="#ea4d5f"/>
<rect x="756" y="391" width="1" height="12" fill="#ea4d5f"/>
<rect x="755" y="398" width="3" height="2" fill="#ea4d5f"/>
<rect x="760" y="398" width="1" height="8" fill="#4fbf8f"/>
<rect x="759" y="399" width="3" height="6" fill="#4fbf8f"/>
<rect x="764" y="402" width="1" height="22" fill="#4fbf8f"/>
<rect x="763" y="407" width="3" height="10" fill="#4fbf8f"/>
<rect x="768" y="391" width="1" height="27" fill="#ea4d5f"/>
<rect x="767" y="395" width="3" height="22" fill="#ea4d5f"/>
<rect x="772" y="349" width="1" height="93" fill="#ea4d5f"/>
<rect x="771" y="350" width="3" height="43" fill="#ea4d5f"/>
<rect x="776" y="335" width="1" height="42" fill="#ea4d5f"/>
<rect x="775" y="336" width="3" height="14" fill="#ea4d5f"/>
<rect x="780" y="337" width="1" height="22" fill="#4fbf8f"/>
<rect x="779" y="338" width="3" height="21" fill="#4fbf8f"/>
<rect x="784" y="355" width="1" height="16" fill="#4fbf8f"/>
<rect x="783" y="357" width="3" height="14" fill="#4fbf8f"/>
<rect x="788" y="368" width="1" height="16" fill="#4fbf8f"/>
<rect x="787" y="369" width="3" height="10" fill="#4fbf8f"/>
<rect x="792" y="291" width="1" height="88" fill="#ea4d5f"/>
<rect x="791" y="302" width="3" height="76" fill="#ea4d5f"/>
<rect x="796" y="298" width="1" height="36" fill="#4fbf8f"/>
<rect x="795" y="303" width="3" height="20" fill="#4fbf8f"/>
<rect x="800" y="310" width="1" height="17" fill="#ea4d5f"/>
<rect x="799" y="316" width="3" height="7" fill="#ea4d5f"/>
<rect x="804" y="312" width="1" height="7" fill="#ea4d5f"/>
<rect x="803" y="315" width="3" height="3" fill="#ea4d5f"/>
<rect x="808" y="299" width="1" height="18" fill="#ea4d5f"/>
<rect x="807" y="300" width="3" height="17" fill="#ea4d5f"/>
<rect x="812" y="290" width="1" height="16" fill="#ea4d5f"/>
<rect x="811" y="292" width="3" height="7" fill="#ea4d5f"/>
<rect x="816" y="279" width="1" height="29" fill="#ea4d5f"/>
<rect x="815" y="290" width="3" height="5" fill="#ea4d5f"/>
<rect x="820" y="279" width="1" height="16" fill="#ea4d5f"/>
<rect x="819" y="283" width="3" height="9" fill="#ea4d5f"/>
<rect x="824" y="284" width="1" height="15" fill="#4fbf8f"/>
<rect x="823" y="285" width="3" height="12" fill="#4fbf8f"/>
<rect x="828" y="275" width="1" height="10" fill="#ea4d5f"/>
<rect x="827" y="280" width="3" height="5" fill="#ea4d5f"/>
<rect x="832" y="275" width="1" height="19" fill="#4fbf8f"/>
<rect x="831" y="280" width="3" height="13" fill="#4fbf8f"/>
<rect x="836" y="282" width="1" height="18" fill="#4fbf8f"/>
<rect x="835" y="292" width="3" height="8" fill="#4fbf8f"/>
<rect x="840" y="281" width="1" height="22" fill="#ea4d5f"/>
<rect x="839" y="285" width="3" height="15" fill="#ea4d5f"/>
<rect x="844" y="270" width="1" height="24" fill="#ea4d5f"/>
<rect x="843" y="278" width="3" height="13" fill="#ea4d5f"/>
<rect x="848" y="268" width="1" height="13" fill="#ea4d5f"/>
<rect x="847" y="275" width="3" height="3" fill="#ea4d5f"/>
<rect x="852" y="274" width="1" height="8" fill="#ea4d5f"/>
<rect x="851" y="280" width="3" height="2" fill="#ea4d5f"/>
<rect x="856" y="272" width="1" height="20" fill="#4fbf8f"/>
<rect x="855" y="280" width="3" height="12" fill="#4fbf8f"/>
<rect x="860" y="281" width="1" height="17" fill="#4fbf8f"/>
<rect x="859" y="292" width="3" height="3" fill="#4fbf8f"/>
<rect x="864" y="275" width="1" height="26" fill="#ea4d5f"/>
<rect x="863" y="278" width="3" height="17" fill="#ea4d5f"/>
<rect x="868" y="274" width="1" height="39" fill="#4fbf8f"/>
<rect x="867" y="278" width="3" height="26" fill="#4fbf8f"/>
<rect x="872" y="303" width="1" height="16" fill="#4fbf8f"/>
<rect x="871" y="309" width="3" height="9" fill="#4fbf8f"/>
<rect x="876" y="310" width="1" height="11" fill="#ea4d5f"/>
<rect x="875" y="313" width="3" height="3" fill="#ea4d5f"/>
<rect x="880" y="312" width="1" height="13" fill="#4fbf8f"/>
<rect x="879" y="313" width="3" height="7" fill="#4fbf8f"/>
<rect x="884" y="308" width="1" height="19" fill="#ea4d5f"/>
<rect x="883" y="311" width="3" height="9" fill="#ea4d5f"/>
<rect x="888" y="277" width="1" height="34" fill="#ea4d5f"/>
<rect x="887" y="291" width="3" height="20" fill="#ea4d5f"/>
<rect x="892" y="271" width="1" height="20" fill="#ea4d5f"/>
<rect x="891" y="274" width="3" height="17" fill="#ea4d5f"/>
<rect x="896" y="271" width="1" height="10" fill="#ea4d5f"/>
<rect x="895" y="274" width="3" height="5" fill="#ea4d5f"/>
<rect x="900" y="278" width="1" height="8" fill="#ea4d5f"/>
<rect x="899" y="279" width="3" height="3" fill="#ea4d5f"/>
<rect x="904" y="266" width="1" height="17" fill="#ea4d5f"/>
<rect x="903" y="274" width="3" height="7" fill="#ea4d5f"/>
<rect x="908" y="269" width="1" height="19" fill="#ea4d5f"/>
<rect x="907" y="271" width="3" height="3" fill="#ea4d5f"/>
<rect x="912" y="226" width="1" height="47" fill="#ea4d5f"/>
<rect x="911" y="241" width="3" height="30" fill="#ea4d5f"/>
<rect x="916" y="221" width="1" height="33" fill="#4fbf8f"/>
<rect x="915" y="241" width="3" height="8" fill="#4fbf8f"/>
<rect x="920" y="247" width="1" height="8" fill="#4fbf8f"/>
<rect x="919" y="251" width="3" height="4" fill="#4fbf8f"/>
<rect x="924" y="240" width="1" height="19" fill="#ea4d5f"/>
<rect x="923" y="247" width="3" height="11" fill="#ea4d5f"/>
<rect x="928" y="235" width="1" height="14" fill="#ea4d5f"/>
<rect x="927" y="241" width="3" height="7" fill="#ea4d5f"/>
<rect x="932" y="231" width="1" height="23" fill="#4fbf8f"/>
<rect x="931" y="241" width="3" height="7" fill="#4fbf8f"/>
<rect x="936" y="232" width="1" height="37" fill="#4fbf8f"/>
<rect x="935" y="248" width="3" height="8" fill="#4fbf8f"/>
<rect x="940" y="225" width="1" height="32" fill="#ea4d5f"/>
<rect x="939" y="237" width="3" height="20" fill="#ea4d5f"/>
<rect x="944" y="232" width="1" height="17" fill="#4fbf8f"/>
<rect x="943" y="239" width="3" height="10" fill="#4fbf8f"/>
<rect x="948" y="251" width="1" height="13" fill="#4fbf8f"/>
<rect x="947" y="252" width="3" height="12" fill="#4fbf8f"/>
<rect x="952" y="262" width="1" height="11" fill="#4fbf8f"/>
<rect x="951" y="264" width="3" height="9" fill="#4fbf8f"/>
<rect x="956" y="272" width="1" height="14" fill="#4fbf8f"/>
<rect x="955" y="273" width="3" height="7" fill="#4fbf8f"/>
<rect x="960" y="256" width="1" height="28" fill="#4fbf8f"/>
<rect x="959" y="280" width="3" height="4" fill="#4fbf8f"/>
<rect x="964" y="279" width="1" height="12" fill="#4fbf8f"/>
<rect x="963" y="282" width="3" height="2" fill="#4fbf8f"/>
<rect x="968" y="278" width="1" height="9" fill="#ea4d5f"/>
<rect x="967" y="284" width="3" height="3" fill="#ea4d5f"/>
<rect x="972" y="278" width="1" height="8" fill="#ea4d5f"/>
<rect x="971" y="282" width="3" height="2" fill="#ea4d5f"/>
<rect x="976" y="278" width="1" height="23" fill="#4fbf8f"/>
<rect x="975" y="282" width="3" height="19" fill="#4fbf8f"/>
<rect x="980" y="281" width="1" height="22" fill="#ea4d5f"/>
<rect x="979" y="282" width="3" height="21" fill="#ea4d5f"/>
<rect x="984" y="278" width="1" height="41" fill="#4fbf8f"/>
<rect x="983" y="282" width="3" height="27" fill="#4fbf8f"/>
<rect x="988" y="276" width="1" height="40" fill="#ea4d5f"/>
<rect x="987" y="280" width="3" height="30" fill="#ea4d5f"/>
<rect x="992" y="265" width="1" height="14" fill="#ea4d5f"/>
<rect x="991" y="273" width="3" height="6" fill="#ea4d5f"/>
<rect x="996" y="263" width="1" height="14" fill="#4fbf8f"/>
<rect x="995" y="273" width="3" height="4" fill="#4fbf8f"/>
<rect x="1000" y="255" width="1" height="23" fill="#ea4d5f"/>
<rect x="999" y="259" width="3" height="18" fill="#ea4d5f"/>
<rect x="1004" y="257" width="1" height="21" fill="#4fbf8f"/>
<rect x="1003" y="259" width="3" height="17" fill="#4fbf8f"/>
<rect x="1008" y="274" width="1" height="64" fill="#4fbf8f"/>
<rect x="1007" y="276" width="3" height="41" fill="#4fbf8f"/>
<rect x="1012" y="294" width="1" height="27" fill="#ea4d5f"/>
<rect x="1011" y="317" width="3" height="3" fill="#ea4d5f"/>
<rect x="1016" y="312" width="1" height="15" fill="#4fbf8f"/>
<rect x="1015" y="318" width="3" height="8" fill="#4fbf8f"/>
<rect x="1020" y="319" width="1" height="14" fill="#ea4d5f"/>
<rect x="1019" y="323" width="3" height="5" fill="#ea4d5f"/>
<rect x="1024" y="312" width="1" height="15" fill="#ea4d5f"/>
<rect x="1023" y="316" width="3" height="10" fill="#ea4d5f"/>
<rect x="1028" y="314" width="1" height="20" fill="#4fbf8f"/>
<rect x="1027" y="316" width="3" height="14" fill="#4fbf8f"/>
<rect x="1032" y="298" width="1" height="36" fill="#ea4d5f"/>
<rect x="1031" y="316" width="3" height="14" fill="#ea4d5f"/>
<rect x="1036" y="314" width="1" height="29" fill="#4fbf8f"/>
<rect x="1035" y="320" width="3" height="20" fill="#4fbf8f"/>
<rect x="1040" y="337" width="1" height="6" fill="#ea4d5f"/>
<rect x="1039" y="339" width="3" height="2" fill="#ea4d5f"/>
<rect x="1044" y="331" width="1" height="10" fill="#ea4d5f"/>
<rect x="1043" y="332" width="3" height="7" fill="#ea4d5f"/>
<rect x="1048" y="325" width="1" height="8" fill="#ea4d5f"/>
<rect x="1047" y="328" width="3" height="4" fill="#ea4d5f"/>
<rect x="1052" y="324" width="1" height="17" fill="#4fbf8f"/>
<rect x="1051" y="328" width="3" height="9" fill="#4fbf8f"/>
<rect x="1056" y="305" width="1" height="41" fill="#ea4d5f"/>
<rect x="1055" y="313" width="3" height="25" fill="#ea4d5f"/>
<rect x="1060" y="304" width="1" height="19" fill="#ea4d5f"/>
<rect x="1059" y="306" width="3" height="7" fill="#ea4d5f"/>
<rect x="1064" y="300" width="1" height="5" fill="#ea4d5f"/>
<rect x="1063" y="302" width="3" height="2" fill="#ea4d5f"/>
<rect x="1068" y="272" width="1" height="12" fill="#ea4d5f"/>
<rect x="1067" y="277" width="3" height="2" fill="#ea4d5f"/>
<rect x="1072" y="269" width="1" height="12" fill="#ea4d5f"/>
<rect x="1071" y="277" width="3" height="2" fill="#ea4d5f"/>
<rect x="1076" y="258" width="1" height="31" fill="#ea4d5f"/>
<rect x="1075" y="264" width="3" height="13" fill="#ea4d5f"/>
<rect x="1080" y="254" width="1" height="35" fill="#4fbf8f"/>
<rect x="1079" y="265" width="3" height="19" fill="#4fbf8f"/>
<rect x="1084" y="256" width="1" height="28" fill="#ea4d5f"/>
<rect x="1083" y="259" width="3" height="25" fill="#ea4d5f"/>
<rect x="1088" y="254" width="1" height="12" fill="#4fbf8f"/>
<rect x="1087" y="259" width="3" height="7" fill="#4fbf8f"/>
<rect x="1092" y="257" width="1" height="6" fill="#4fbf8f"/>
<rect x="1091" y="259" width="3" height="2" fill="#4fbf8f"/>
<rect x="1096" y="260" width="1" height="12" fill="#4fbf8f"/>
<rect x="1095" y="261" width="3" height="1" fill="#4fbf8f"/>
<rect x="1100" y="249" width="1" height="13" fill="#ea4d5f"/>
<rect x="1099" y="254" width="3" height="8" fill="#ea4d5f"/>
<rect x="1104" y="241" width="1" height="39" fill="#4fbf8f"/>
<rect x="1103" y="254" width="3" height="25" fill="#4fbf8f"/>
<rect x="1108" y="274" width="1" height="34" fill="#4fbf8f"/>
<rect x="1107" y="278" width="3" height="16" fill="#4fbf8f"/>
<rect x="1112" y="287" width="1" height="10" fill="#4fbf8f"/>
<rect x="1111" y="294" width="3" height="3" fill="#4fbf8f"/>
<rect x="1116" y="284" width="1" height="10" fill="#4fbf8f"/>
<rect x="1115" y="291" width="3" height="3" fill="#4fbf8f"/>
<rect x="1120" y="291" width="1" height="13" fill="#4fbf8f"/>
<rect x="1119" y="294" width="3" height="10" fill="#4fbf8f"/>
<rect x="1124" y="305" width="1" height="16" fill="#4fbf8f"/>
<rect x="1123" y="308" width="3" height="12" fill="#4fbf8f"/>
<rect x="1128" y="301" width="1" height="26" fill="#ea4d5f"/>
<rect x="1127" y="306" width="3" height="15" fill="#ea4d5f"/>
<rect x="1132" y="284" width="1" height="26" fill="#ea4d5f"/>
<rect x="1131" y="289" width="3" height="19" fill="#ea4d5f"/>
<rect x="1136" y="287" width="1" height="15" fill="#4fbf8f"/>
<rect x="1135" y="294" width="3" height="8" fill="#4fbf8f"/>
<rect x="1140" y="305" width="1" height="9" fill="#4fbf8f"/>
<rect x="1139" y="309" width="3" height="2" fill="#4fbf8f"/>
<rect x="1144" y="291" width="1" height="20" fill="#ea4d5f"/>
<rect x="1143" y="292" width="3" height="19" fill="#ea4d5f"/>
<rect x="1148" y="285" width="1" height="24" fill="#4fbf8f"/>
<rect x="1147" y="294" width="3" height="14" fill="#4fbf8f"/>
<rect x="1152" y="269" width="1" height="42" fill="#ea4d5f"/>
<rect x="1151" y="282" width="3" height="29" fill="#ea4d5f"/>
<rect x="1156" y="267" width="1" height="19" fill="#ea4d5f"/>
<rect x="1155" y="272" width="3" height="10" fill="#ea4d5f"/>
<rect x="1160" y="270" width="1" height="12" fill="#4fbf8f"/>
<rect x="1159" y="273" width="3" height="9" fill="#4fbf8f"/>
<rect x="1164" y="279" width="1" height="5" fill="#4fbf8f"/>
<rect x="1163" y="280" width="3" height="2" fill="#4fbf8f"/>
<rect x="1168" y="281" width="1" height="21" fill="#4fbf8f"/>
<rect x="1167" y="282" width="3" height="20" fill="#4fbf8f"/>
<rect x="1172" y="301" width="1" height="13" fill="#4fbf8f"/>
<rect x="1171" y="302" width="3" height="9" fill="#4fbf8f"/>
<rect x="1176" y="312" width="1" height="22" fill="#4fbf8f"/>
<rect x="1175" y="313" width="3" height="5" fill="#4fbf8f"/>
<rect x="1180" y="317" width="1" height="64" fill="#4fbf8f"/>
<rect x="1179" y="318" width="3" height="57" fill="#4fbf8f"/>
<rect x="1184" y="371" width="1" height="23" fill="#4fbf8f"/>
<rect x="1183" y="372" width="3" height="22" fill="#4fbf8f"/>
<rect x="1188" y="343" width="1" height="17" fill="#ea4d5f"/>
<rect x="1187" y="351" width="3" height="9" fill="#ea4d5f"/>
<rect x="1192" y="343" width="1" height="14" fill="#4fbf8f"/>
<rect x="1191" y="351" width="3" height="3" fill="#4fbf8f"/>
<rect x="1196" y="341" width="1" height="19" fill="#4fbf8f"/>
<rect x="1195" y="354" width="3" height="6" fill="#4fbf8f"/>
<rect x="1200" y="341" width="1" height="34" fill="#ea4d5f"/>
<rect x="1199" y="351" width="3" height="9" fill="#ea4d5f"/>
<rect x="1204" y="346" width="1" height="20" fill="#4fbf8f"/>
<rect x="1203" y="351" width="3" height="15" fill="#4fbf8f"/>
<rect x="1208" y="370" width="1" height="6" fill="#4fbf8f"/>
<rect x="1207" y="371" width="3" height="5" fill="#4fbf8f"/>
<rect x="1212" y="355" width="1" height="20" fill="#ea4d5f"/>
<rect x="1211" y="368" width="3" height="7" fill="#ea4d5f"/>
<rect x="1216" y="364" width="1" height="46" fill="#4fbf8f"/>
<rect x="1215" y="368" width="3" height="40" fill="#4fbf8f"/>
<rect x="1220" y="403" width="1" height="23" fill="#4fbf8f"/>
<rect x="1219" y="405" width="3" height="19" fill="#4fbf8f"/>
<rect x="1224" y="375" width="1" height="49" fill="#ea4d5f"/>
<rect x="1223" y="382" width="3" height="42" fill="#ea4d5f"/>
<rect x="1228" y="375" width="1" height="28" fill="#4fbf8f"/>
<rect x="1227" y="382" width="3" height="20" fill="#4fbf8f"/>
<rect x="1232" y="391" width="1" height="22" fill="#ea4d5f"/>
<rect x="1231" y="394" width="3" height="11" fill="#ea4d5f"/>
<rect x="1236" y="389" width="1" height="27" fill="#4fbf8f"/>
<rect x="1235" y="390" width="3" height="26" fill="#4fbf8f"/>
<rect x="1240" y="408" width="1" height="10" fill="#4fbf8f"/>
<rect x="1239" y="416" width="3" height="2" fill="#4fbf8f"/>
<rect x="1244" y="410" width="1" height="17" fill="#ea4d5f"/>
<rect x="1243" y="412" width="3" height="6" fill="#ea4d5f"/>
<rect x="1248" y="400" width="1" height="25" fill="#4fbf8f"/>
<rect x="1247" y="412" width="3" height="4" fill="#4fbf8f"/>
<rect x="1252" y="377" width="1" height="43" fill="#ea4d5f"/>
<rect x="1251" y="380" width="3" height="34" fill="#ea4d5f"/>
<rect x="1256" y="380" width="1" height="18" fill="#4fbf8f"/>
<rect x="1255" y="382" width="3" height="11" fill="#4fbf8f"/>
<rect x="1260" y="393" width="1" height="17" fill="#4fbf8f"/>
<rect x="1259" y="397" width="3" height="10" fill="#4fbf8f"/>
<rect x="1264" y="389" width="1" height="19" fill="#ea4d5f"/>
<rect x="1263" y="392" width="3" height="15" fill="#ea4d5f"/>
<rect x="1268" y="390" width="1" height="17" fill="#4fbf8f"/>
<rect x="1267" y="396" width="3" height="9" fill="#4fbf8f"/>
<rect x="1272" y="375" width="1" height="43" fill="#ea4d5f"/>
<rect x="1271" y="392" width="3" height="13" fill="#ea4d5f"/>
<rect x="1276" y="386" width="1" height="70" fill="#4fbf8f"/>
<rect x="1275" y="390" width="3" height="65" fill="#4fbf8f"/>
<rect x="1280" y="451" width="1" height="10" fill="#ea4d5f"/>
<rect x="1279" y="452" width="3" height="2" fill="#ea4d5f"/>
<rect x="1284" y="466" width="1" height="11" fill="#4fbf8f"/>
<rect x="1283" y="467" width="3" height="9" fill="#4fbf8f"/>
<rect x="1288" y="472" width="1" height="21" fill="#4fbf8f"/>
<rect x="1287" y="478" width="3" height="15" fill="#4fbf8f"/>
<rect x="1292" y="459" width="1" height="37" fill="#ea4d5f"/>
<rect x="1291" y="460" width="3" height="33" fill="#ea4d5f"/>
<rect x="1296" y="429" width="1" height="36" fill="#ea4d5f"/>
<rect x="1295" y="433" width="3" height="29" fill="#ea4d5f"/>
</g>
<g shape-rendering="crispEdges">
<path d="M68 203v1M69 203v1M70 204v1M71 204v1M72 204v1M73 204v1M74 204v1M75 204v1M76 204v1M77 204v1M78 203v1M79 203v1M80 203v1M81 203v1M82 202v1M83 202v1M84 202v1M85 201v1M86 201v1M87 200v1M88 200v1M89 199v1M90 198v1M91 198v1M92 197v1M93 196v1M94 195v1M95 194v1M96 193v1M97 192v1M98 191v1M99 190v1M100 189v1M101 188v1M102 187v1M103 186v1M104 185v1M105 184v1M106 183v1M107 182v1M108 181v1M109 180v1M110 179v1M111 179v1M112 178v1M113 177v1M114 176v1M115 175v1M116 174v1M117 173v1M118 173v1M119 172v1M120 172v1M121 171v1M122 171v1M123 170v1M124 170v1M125 169v1M126 169v1M127 168v1M128 168v1M129 167v1M130 166v1M131 166v1M132 165v1M133 164v1M134 163v1M135 163v1M136 162v1M137 161v1M138 160v1M139 160v1M140 159v1M141 158v1M142 157v1M143 157v1M144 156v1M145 155v1M146 154v1M147 154v1M148 153v1M149 152v1M150 151v1M151 151v1M152 150v1M153 149v1M154 148v1M155 148v1M156 147v1M157 146v1M158 146v1M159 145v1M160 145v1M161 145v1M162 145v1M163 145v1M164 145v1M165 145v1M166 145v1M167 145v1M168 145v1M169 145v1M170 146v1M171 146v1M172 146v1M173 146v1M174 147v1M175 147v1M176 147v1M177 148v1M178 148v1M179 149v1M180 149v1M181 150v1M182 151v1M183 151v1M184 152v1M185 153v1M186 154v1M187 154v1M188 155v1M189 156v1M190 157v1M191 157v1M192 158v1M193 158v1M194 157v1M195 157v1M196 157v1M197 157v1M198 156v1M199 156v1M200 156v1M201 156v1M202 156v1M203 156v1M204 156v1M205 156v1M206 156v1M207 156v1M208 156v1M209 156v1M210 156v1M211 156v1M212 156v1M213 156v1M214 156v1M215 156v1M216 156v1M217 155v1M218 155v1M219 154v1M220 154v1M221 153v1M222 153v1M223 152v1M224 152v1M225 152v1M226 151v1M227 151v1M228 151v1M229 151v1M230 150v1M231 150v1M232 150v1M233 150v1M234 149v1M235 149v1M236 149v1M237 149v1M238 149v1M239 149v1M240 149v1M241 148v1M242 147v1M243 146v1M244 145v1M245 144v1M246 143v1M247 142v1M248 141v1M249 140v1M250 138v2M251 137v1M252 136v1M253 135v1M254 133v2M255 132v1M256 131v1M257 129v2M258 128v1M259 126v2M260 125v1M261 123v2M262 122v1M263 120v2M264 119v1M265 117v2M266 116v1M267 114v2M268 113v1M269 112v1M270 110v2M271 109v1M272 108v1M273 108v1M274 107v1M275 107v1M276 107v1M277 107v1M278 106v1M279 106v1M280 106v1M281 106v1M282 105v1M283 105v1M284 105v1M285 105v1M286 105v1M287 105v1M288 105v1M289 105v1M290 104v1M291 104v1M292 104v1M293 104v1M294 104v1M295 104v1M296 104v1M297 104v1M298 104v1M299 104v1M300 104v1M301 104v1M302 105v1M303 105v1M304 105v1M305 106v1M306 106v1M307 107v1M308 107v1M309 107v1M310 107v1M311 107v1M312 107v1M313 106v1M314 106v1M315 105v1M316 105v1M317 105v1M318 105v1M319 105v1M320 105v1M321 105v1M322 105v1M323 105v1M324 105v1M325 105v1M326 105v1M327 105v1M328 105v1M329 105v1M330 106v1M331 106v1M332 106v1M333 106v1M334 106v1M335 106v1M336 106v1M337 107v2M338 109v1M339 110v2M340 112v1M341 113v1M342 114v1M343 114v1M344 115v1M345 116v1M346 116v1M347 117v1M348 117v1M349 118v1M350 118v1M351 119v1M352 119v1M353 119v1M354 120v1M355 120v1M356 120v1M357 121v1M358 121v1M359 122v1M360 122v1M361 122v1M362 123v1M363 123v1M364 123v1M365 123v1M366 124v1M367 124v1M368 124v1M369 124v1M370 124v1M371 124v1M372 124v1M373 124v1M374 124v1M375 124v1M376 124v1M377 124v1M378 124v1M379 124v1M380 124v1M381 124v1M382 124v1M383 124v1M384 124v1M385 124v1M386 124v1M387 124v1M388 124v1M389 125v1M390 126v1M391 126v1M392 127v1M393 128v1M394 129v1M395 129v1M396 130v1M397 131v1M398 132v1M399 133v1M400 134v1M401 135v1M402 136v1M403 136v1M404 137v1M405 138v1M406 139v1M407 140v1M408 141v1M409 142v1M410 143v1M411 143v1M412 144v1M413 145v1M414 146v1M415 147v1M416 148v1M417 149v1M418 149v1M419 150v1M420 150v1M421 151v1M422 151v1M423 152v1M424 152v1M425 153v1M426 153v1M427 154v1M428 154v1M429 155v1M430 155v1M431 156v1M432 156v1M433 157v1M434 157v1M435 158v1M436 158v1M437 159v1M438 160v1M439 161v1M440 162v1M441 163v1M442 164v1M443 165v1M444 166v1M445 167v1M446 168v1M447 169v1M448 170v1M449 171v1M450 172v1M451 173v1M452 174v1M453 175v1M454 176v2M455 178v1M456 179v1M457 180v1M458 181v1M459 181v1M460 182v1M461 183v1M462 184v1M463 185v1M464 186v1M465 187v1M466 187v1M467 188v1M468 188v1M469 188v1M470 189v1M471 189v1M472 189v1M473 189v1M474 189v1M475 189v1M476 189v1M477 189v1M478 190v1M479 190v1M480 190v1M481 191v1M482 191v1M483 192v1M484 192v1M485 192v1M486 193v1M487 193v1M488 193v1M489 193v1M490 194v1M491 194v1M492 194v1M493 193v1M494 193v1M495 192v1M496 192v1M497 191v1M498 191v1M499 190v1M500 190v1M501 189v1M502 188v1M503 188v1M504 187v1M505 186v1M506 186v1M507 185v1M508 185v1M509 184v1M510 184v1M511 183v1M512 183v1M513 182v1M514 181v1M515 181v1M516 180v1M517 179v1M518 177v2M519 176v1M520 175v1M521 174v1M522 173v1M523 172v1M524 171v1M525 171v1M526 171v1M527 171v1M528 171v1M529 171v1M530 171v1M531 171v1M532 171v1M533 171v1M534 171v1M535 171v1M536 171v1M537 171v1M538 171v1M539 171v1M540 171v1M541 171v1M542 172v1M543 172v1M544 172v1M545 172v1M546 173v1M547 173v1M548 173v1M549 174v1M550 174v1M551 175v1M552 175v1M553 176v1M554 177v1M555 177v1M556 178v1M557 179v1M558 180v1M559 181v1M560 182v1M561 183v1M562 184v2M563 186v1M564 187v1M565 188v1M566 189v2M567 191v1M568 192v1M569 193v2M570 195v1M571 196v2M572 198v1M573 199v2M574 201v2M575 203v2M576 205v3M577 208v3M578 211v2M579 213v3M580 216v3M581 219v2M582 221v3M583 224v2M584 226v3M585 229v2M586 231v2M587 233v2M588 235v3M589 238v2M590 240v3M591 243v2M592 245v3M593 248v2M594 250v3M595 253v2M596 255v3M597 258v2M598 260v3M599 263v2M600 265v3M601 268v3M602 271v3M603 274v3M604 277v3M605 280v2M606 282v3M607 285v2M608 287v3M609 290v2M610 292v2M611 294v2M612 296v3M613 299v2M614 301v2M615 303v2M616 305v2M617 307v2M618 309v2M619 311v2M620 313v2M621 315v2M622 317v2M623 319v2M624 321v2M625 323v2M626 325v2M627 327v2M628 329v1M629 330v2M630 332v1M631 333v2M632 335v1M633 336v1M634 337v1M635 338v1M636 339v1M637 340v1M638 341v1M639 341v1M640 342v1M641 343v1M642 344v1M643 345v1M644 346v1M645 347v2M646 349v1M647 350v2M648 352v1M649 353v1M650 354v2M651 356v1M652 357v1M653 358v1M654 358v1M655 359v1M656 359v1M657 359v1M658 360v1M659 360v1M660 360v1M661 360v1M662 361v1M663 361v1M664 361v1M665 362v1M666 363v1M667 364v1M668 365v1M669 366v1M670 367v1M671 367v1M672 368v1M673 369v1M674 370v1M675 371v1M676 372v1M677 373v1M678 373v1M679 374v1M680 374v1M681 374v1M682 374v1M683 374v1M684 374v1M685 374v1M686 375v1M687 375v1M688 375v1M689 375v1M690 376v1M691 376v1M692 376v1M693 376v1M694 376v1M695 376v1M696 376v1M697 376v1M698 376v1M699 376v1M700 376v1M701 376v1M702 376v1M703 376v1M704 376v1M705 376v1M706 375v1M707 375v1M708 375v1M709 375v1M710 375v1M711 375v1M712 375v1M713 375v1M714 376v1M715 376v1M716 376v1M717 377v1M718 377v1M719 378v1M720 378v1M721 379v1M722 380v1M723 380v1M724 381v1M725 381v1M726 381v1M727 381v1M728 381v1M729 381v1M730 382v1M731 382v1M732 382v1M733 382v1M734 382v1M735 382v1M736 382v1M737 382v1M738 382v1M739 382v1M740 382v1M741 382v1M742 383v1M743 383v1M744 383v1M745 383v1M746 383v1M747 383v1M748 383v1M749 383v1M750 383v1M751 383v1M752 383v1M753 383v1M754 382v1M755 382v1M756 382v1M757 382v1M758 382v1M759 382v1M760 382v1M761 382v1M762 382v1M763 382v1M764 382v1M765 382v1M766 383v1M767 383v1M768 383v1M769 382v1M770 382v1M771 381v1M772 381v1M773 380v1M774 380v1M775 379v1M776 379v1M777 379v1M778 379v1M779 379v1M780 379v1M781 379v1M782 379v1M783 379v1M784 379v1M785 379v1M786 380v1M787 380v1M788 380v1M789 379v1M790 379v1M791 378v1M792 378v1M793 377v1M794 377v1M795 376v1M796 376v1M797 375v1M798 374v1M799 373v1M800 372v1M801 371v1M802 370v1M803 369v1M804 368v1M805 367v1M806 365v2M807 364v1M808 363v1M809 362v1M810 360v2M811 359v1M812 358v1M813 357v1M814 357v1M815 356v1M816 356v1M817 354v2M818 353v1M819 351v2M820 350v1M821 348v2M822 347v1M823 345v2M824 344v1M825 342v2M826 341v1M827 339v2M828 338v1M829 336v2M830 335v1M831 333v2M832 332v1M833 330v2M834 329v1M835 327v2M836 326v1M837 324v2M838 323v1M839 321v2M840 320v1M841 318v2M842 317v1M843 315v2M844 314v1M845 312v2M846 311v1M847 309v2M848 308v1M849 307v1M850 306v1M851 306v1M852 305v1M853 304v1M854 304v1M855 303v1M856 303v1M857 302v1M858 301v1M859 301v1M860 300v1M861 299v1M862 298v1M863 297v1M864 296v1M865 295v1M866 294v1M867 294v1M868 293v1M869 293v1M870 293v1M871 293v1M872 293v1M873 293v1M874 293v1M875 293v1M876 293v1M877 293v1M878 293v1M879 293v1M880 293v1M881 293v1M882 293v1M883 293v1M884 293v1M885 293v1M886 292v1M887 292v1M888 292v1M889 292v1M890 292v1M891 292v1M892 292v1M893 292v1M894 291v1M895 291v1M896 291v1M897 291v1M898 291v1M899 291v1M900 291v1M901 291v1M902 290v1M903 290v1M904 290v1M905 289v1M906 289v1M907 288v1M908 288v1M909 287v1M910 287v1M911 286v1M912 286v1M913 285v1M914 285v1M915 284v1M916 284v1M917 283v1M918 283v1M919 282v1M920 282v1M921 282v1M922 281v1M923 281v1M924 281v1M925 280v1M926 280v1M927 279v1M928 279v1M929 278v1M930 278v1M931 277v1M932 277v1M933 276v1M934 276v1M935 275v1M936 275v1M937 274v1M938 274v1M939 273v1M940 273v1M941 272v1M942 272v1M943 271v1M944 271v1M945 270v1M946 270v1M947 269v1M948 269v1M949 268v1M950 268v1M951 267v1M952 267v1M953 266v1M954 266v1M955 265v1M956 265v1M957 265v1M958 264v1M959 264v1M960 264v1M961 263v1M962 263v1M963 262v1M964 262v1M965 262v1M966 262v1M967 262v1M968 262v1M969 262v1M970 263v1M971 263v1M972 263v1M973 263v1M974 264v1M975 264v1M976 264v1M977 264v1M978 265v1M979 265v1M980 265v1M981 265v1M982 266v1M983 266v1M984 266v1M985 266v1M986 267v1M987 267v1M988 267v1M989 267v1M990 268v1M991 268v1M992 268v1M993 269v1M994 269v1M995 270v1M996 270v1M997 270v1M998 270v1M999 270v1M1000 270v1M1001 270v1M1002 271v1M1003 271v1M1004 271v1M1005 272v1M1006 273v1M1007 273v1M1008 274v1M1009 275v1M1010 276v2M1011 278v1M1012 279v1M1013 280v1M1014 281v1M1015 281v1M1016 282v1M1017 283v1M1018 284v1M1019 285v1M1020 286v1M1021 287v1M1022 288v1M1023 288v1M1024 289v1M1025 290v1M1026 291v1M1027 292v1M1028 293v1M1029 294v1M1030 295v1M1031 295v1M1032 296v1M1033 297v1M1034 298v1M1035 298v1M1036 299v1M1037 300v1M1038 300v1M1039 301v1M1040 301v1M1041 302v1M1042 303v1M1043 303v1M1044 304v1M1045 305v1M1046 305v1M1047 306v1M1048 306v1M1049 307v1M1050 307v1M1051 308v1M1052 308v1M1053 308v1M1054 309v1M1055 309v1M1056 309v1M1057 309v1M1058 309v1M1059 309v1M1060 309v1M1061 309v1M1062 309v1M1063 309v1M1064 309v1M1065 309v1M1066 310v1M1067 310v1M1068 310v1M1069 310v1M1070 310v1M1071 310v1M1072 310v1M1073 310v1M1074 310v1M1075 310v1M1076 310v1M1077 310v1M1078 310v1M1079 310v1M1080 310v1M1081 309v1M1082 309v1M1083 308v1M1084 308v1M1085 307v1M1086 307v1M1087 306v1M1088 306v1M1089 305v1M1090 305v1M1091 304v1M1092 304v1M1093 303v1M1094 302v1M1095 302v1M1096 301v1M1097 300v1M1098 299v1M1099 298v1M1100 297v1M1101 296v1M1102 296v1M1103 295v1M1104 295v1M1105 295v1M1106 294v1M1107 294v1M1108 294v1M1109 293v1M1110 293v1M1111 292v1M1112 292v1M1113 291v1M1114 291v1M1115 290v1M1116 290v1M1117 290v1M1118 289v1M1119 289v1M1120 289v1M1121 288v1M1122 288v1M1123 287v1M1124 287v1M1125 287v1M1126 286v1M1127 286v1M1128 286v1M1129 285v1M1130 285v1M1131 284v1M1132 284v1M1133 284v1M1134 284v1M1135 284v1M1136 284v1M1137 284v1M1138 284v1M1139 284v1M1140 284v1M1141 284v1M1142 284v1M1143 284v1M1144 284v1M1145 284v1M1146 285v1M1147 285v1M1148 285v1M1149 285v1M1150 286v1M1151 286v1M1152 286v1M1153 286v1M1154 286v1M1155 286v1M1156 286v1M1157 286v1M1158 286v1M1159 286v1M1160 286v1M1161 286v1M1162 287v1M1163 287v1M1164 287v1M1165 288v1M1166 288v1M1167 289v1M1168 289v1M1169 290v1M1170 291v1M1171 291v1M1172 292v1M1173 293v1M1174 294v1M1175 294v1M1176 295v1M1177 296v1M1178 297v2M1179 299v1M1180 300v1M1181 301v2M1182 303v1M1183 304v2M1184 306v1M1185 307v1M1186 308v1M1187 308v1M1188 309v1M1189 310v1M1190 311v1M1191 311v1M1192 312v1M1193 313v1M1194 313v1M1195 314v1M1196 314v1M1197 315v1M1198 316v1M1199 316v1M1200 317v1M1201 318v1M1202 319v1M1203 319v1M1204 320v1M1205 321v1M1206 322v1M1207 322v1M1208 323v1M1209 324v1M1210 325v1M1211 326v1M1212 327v1M1213 328v1M1214 329v1M1215 330v1M1216 331v1M1217 332v1M1218 333v2M1219 335v1M1220 336v1M1221 337v1M1222 338v2M1223 340v1M1224 341v1M1225 342v2M1226 344v1M1227 345v2M1228 347v1M1229 348v2M1230 350v1M1231 351v2M1232 353v1M1233 354v2M1234 356v2M1235 358v2M1236 360v2M1237 362v2M1238 364v1M1239 365v2M1240 367v1M1241 368v2M1242 370v1M1243 371v2M1244 373v1M1245 374v2M1246 376v1M1247 377v2M1248 379v1M1249 380v1M1250 380v1M1251 381v1M1252 381v1M1253 382v1M1254 383v2M1255 385v1M1256 386v1M1257 387v1M1258 387v1M1259 388v1M1260 388v1M1261 388v1M1262 389v1M1263 389v1M1264 389v1M1265 389v1M1266 390v1M1267 390v1M1268 390v1M1269 390v1M1270 391v1M1271 391v1M1272 391v1M1273 392v2M1274 394v1M1275 395v2M1276 397v1M1277 398v2M1278 400v1M1279 401v2M1280 403v1M1281 404v1M1282 405v2M1283 407v1M1284 408v1M1285 409v1M1286 410v2M1287 412v1M1288 413v1M1289 414v1M1290 415v2M1291 417v1M1292 418v1M1293 418v1M1294 419v1M1295 419v1M1296 419v1" fill="none" stroke="#eeeeee" stroke-width="1" transform="translate(.5,0)" />
<path d="M68 169v1M69 170v1M70 171v1M71 171v1M72 172v1M73 173v1M74 174v1M75 174v1M76 175v1M77 174v1M78 173v1M79 173v1M80 172v1M81 171v1M82 170v1M83 170v1M84 169v1M85 168v1M86 167v1M87 167v1M88 166v1M89 165v1M90 164v1M91 164v1M92 163v1M93 162v1M94 161v1M95 161v1M96 159v2M97 157v2M98 154v3M99 152v2M100 149v3M101 147v2M102 144v3M103 142v2M104 140v2M105 138v2M106 137v1M107 135v2M108 134v1M109 133v1M110 133v1M111 132v1M112 132v1M113 131v1M114 131v1M115 130v1M116 130v1M117 130v1M118 129v1M119 129v1M120 129v1M121 128v1M122 128v1M123 127v1M124 127v1M125 126v1M126 126v1M127 125v1M128 125v1M129 124v1M130 123v1M131 123v1M132 122v1M133 121v1M134 120v1M135 120v1M136 119v1M137 118v1M138 118v1M139 117v1M140 117v1M141 117v1M142 116v1M143 116v1M144 116v1M145 115v1M146 115v1M147 114v1M148 114v1M149 113v1M150 113v1M151 112v1M152 112v1M153 113v1M154 113v1M155 114v1M156 114v1M157 115v1M158 115v1M159 116v1M160 116v1M161 116v1M162 117v1M163 117v1M164 117v1M165 118v1M166 118v1M167 119v1M168 119v1M169 118v1M170 116v2M171 115v1M172 114v1M173 113v1M174 113v1M175 112v1M176 112v1M177 111v1M178 111v1M179 110v1M180 110v1M181 110v1M182 109v1M183 109v1M184 109v1M185 108v1M186 107v1M187 107v1M188 106v1M189 105v1M190 104v1M191 104v1M192 103v1M193 102v1M194 102v1M195 101v1M196 101v1M197 100v1M198 100v1M199 99v1M200 99v1M201 99v1M202 98v1M203 98v1M204 98v1M205 98v1M206 98v1M207 98v1M208 98v1M209 98v1M210 98v1M211 98v1M212 98v1M213 97v1M214 97v1M215 96v1M216 96v1M217 95v1M218 95v1M219 94v1M220 94v1M221 92v2M222 90v2M223 88v2M224 87v1M225 86v1M226 85v1M227 84v1M228 83v1M229 82v1M230 81v1M231 80v1M232 79v1M233 78v1M234 78v1M235 77v1M236 77v1M237 76v1M238 76v1M239 75v1M240 75v1M241 73v2M242 71v2M243 69v2M244 67v2M245 65v2M246 63v2M247 61v2M248 59v2M249 57v2M250 55v2M251 53v2M252 52v1M253 50v2M254 49v1M255 47v2M256 46v1M257 45v1M258 44v1M259 43v1M260 42v1M261 42v1M262 42v1M263 42v1M264 42v1M265 43v2M266 45v1M267 46v2M268 48v2M269 50v3M270 53v3M271 56v3M272 59v2M273 61v1M274 62v1M275 63v1M276 64v1M277 64v1M278 64v1M279 64v1M280 64v1M281 64v1M282 65v1M283 65v1M284 65v1M285 65v1M286 66v1M287 66v1M288 66v1M289 67v1M290 67v1M291 68v1M292 68v1M293 68v1M294 68v1M295 68v1M296 68v1M297 68v1M298 68v1M299 68v1M300 68v1M301 68v1M302 68v1M303 68v1M304 68v1M305 68v1M306 69v1M307 69v1M308 69v1M309 69v1M310 70v1M311 70v1M312 70v1M313 69v1M314 68v1M315 68v1M316 67v1M317 67v1M318 66v1M319 66v1M320 66v1M321 66v1M322 67v1M323 67v1M324 67v1M325 68v1M326 69v1M327 69v1M328 70v1M329 70v1M330 71v1M331 71v1M332 71v1M333 71v1M334 71v1M335 71v1M336 71v1M337 71v1M338 70v1M339 70v1M340 70v1M341 70v1M342 69v1M343 69v1M344 69v1M345 69v1M346 68v1M347 68v1M348 68v1M349 68v1M350 67v1M351 67v1M352 67v1M353 67v1M354 67v1M355 67v1M356 67v1M357 67v1M358 68v1M359 68v1M360 68v1M361 69v1M362 69v1M363 70v1M364 70v1M365 70v1M366 70v1M367 70v1M368 70v1M369 70v1M370 70v1M371 70v1M372 70v1M373 70v1M374 69v1M375 69v1M376 69v1M377 69v1M378 68v1M379 68v1M380 68v1M381 68v1M382 68v1M383 68v1M384 68v1M385 68v1M386 68v1M387 68v1M388 68v1M389 68v1M390 69v1M391 69v1M392 69v1M393 70v2M394 72v1M395 73v2M396 75v1M397 76v2M398 78v2M399 80v2M400 82v1M401 83v2M402 85v2M403 87v2M404 89v1M405 90v2M406 92v1M407 93v2M408 95v2M409 97v2M410 99v2M411 101v2M412 103v3M413 106v2M414 108v3M415 111v2M416 113v2M417 113v1M418 113v1M419 112v1M420 112v1M421 111v1M422 110v1M423 110v1M424 109v1M425 108v1M426 107v1M427 107v1M428 106v1M429 105v1M430 105v1M431 104v1M432 104v1M433 103v1M434 103v1M435 102v1M436 102v1M437 102v1M438 102v1M439 102v1M440 102v1M441 102v1M442 102v1M443 102v1M444 102v1M445 102v1M446 103v1M447 103v1M448 103v1M449 104v1M450 104v1M451 105v1M452 105v1M453 106v2M454 108v2M455 110v2M456 112v2M457 114v2M458 116v3M459 119v2M460 121v3M461 124v3M462 127v2M463 129v3M464 132v2M465 134v2M466 136v2M467 138v2M468 140v1M469 141v1M470 141v1M471 142v1M472 142v1M473 143v1M474 143v1M475 144v1M476 144v1M477 145v1M478 146v1M479 147v1M480 148v1M481 149v1M482 150v2M483 152v1M484 153v1M485 154v1M486 155v1M487 156v1M488 157v1M489 158v2M490 160v1M491 161v2M492 163v1M493 162v1M494 162v1M495 161v1M496 160v2M497 158v2M498 155v3M499 153v2M500 150v3M501 148v2M502 146v2M503 144v2M504 142v2M505 140v2M506 139v1M507 137v2M508 136v1M509 135v1M510 134v1M511 133v1M512 132v1M513 131v1M514 129v2M515 128v1M516 127v1M517 126v1M518 124v2M519 123v1M520 122v1M521 121v1M522 120v1M523 120v1M524 119v1M525 119v1M526 120v1M527 120v1M528 120v1M529 120v1M530 120v1M531 120v1M532 120v1M533 120v1M534 120v1M535 120v1M536 120v1M537 120v1M538 120v1M539 120v1M540 120v1M541 120v1M542 119v1M543 119v1M544 119v1M545 118v1M546 117v1M547 117v1M548 116v1M549 115v1M550 114v1M551 114v1M552 113v1M553 112v1M554 111v1M555 110v1M556 109v1M557 108v1M558 107v1M559 106v1M560 105v1M561 104v1M562 103v1M563 103v1M564 102v1M565 101v1M566 100v1M567 99v1M568 98v1M569 98v1M570 97v1M571 97v1M572 96v2M573 94v2M574 92v2M575 90v2M576 88v2M577 88v1M578 88v1M579 88v1M580 88v1M581 88v1M582 89v1M583 89v1M584 89v1M585 90v2M586 92v1M587 93v2M588 95v1M589 96v2M590 98v2M591 100v2M592 102v3M593 105v2M594 107v3M595 110v2M596 112v4M597 116v4M598 120v4M599 124v4M600 128v5M601 133v5M602 138v4M603 142v5M604 147v4M605 151v2M606 153v2M607 155v2M608 157v3M609 160v2M610 162v2M611 164v2M612 166v3M613 169v2M614 171v2M615 173v2M616 175v4M617 179v4M618 183v4M619 187v4M620 191v4M621 195v4M622 199v4M623 203v4M624 207v4M625 211v4M626 215v4M627 219v4M628 223v4M629 227v4M630 231v4M631 235v4M632 239v4M633 243v4M634 247v4M635 251v4M636 255v3M637 258v3M638 261v4M639 265v3M640 268v3M641 271v4M642 275v4M643 279v4M644 283v4M645 287v4M646 291v4M647 295v4M648 299v5M649 304v4M650 308v5M651 313v4M652 317v3M653 319v1M654 319v1M655 319v1M656 319v1M657 319v1M658 320v1M659 320v1M660 320v1M661 321v1M662 321v1M663 322v1M664 322v1M665 323v1M666 324v1M667 325v1M668 326v1M669 325v1M670 325v1M671 324v1M672 324v1M673 324v1M674 325v1M675 325v1M676 325v1M677 325v1M678 325v1M679 325v1M680 325v1M681 325v1M682 324v1M683 324v1M684 324v1M685 324v1M686 324v1M687 324v1M688 324v1M689 324v1M690 324v1M691 324v1M692 324v1M693 324v1M694 324v1M695 324v1M696 324v1M697 324v1M698 324v1M699 324v1M700 324v1M701 324v1M702 325v1M703 325v1M704 325v1M705 324v1M706 324v1M707 323v1M708 323v1M709 323v1M710 323v1M711 323v1M712 323v1M713 324v1M714 324v1M715 325v1M716 325v1M717 326v2M718 328v1M719 329v2M720 331v1M721 332v2M722 334v1M723 335v2M724 337v1M725 337v1M726 337v1M727 337v1M728 337v1M729 337v1M730 338v1M731 338v1M732 338v1M733 338v1M734 338v1M735 338v1M736 338v1M737 338v1M738 339v1M739 339v1M740 339v1M741 339v1M742 340v1M743 340v1M744 340v1M745 340v1M746 341v1M747 341v1M748 341v1M749 341v1M750 342v1M751 342v1M752 342v1M753 342v1M754 343v1M755 343v1M756 343v1M757 343v1M758 343v1M759 343v1M760 343v1M761 343v1M762 342v1M763 342v1M764 342v1M765 342v1M766 342v1M767 342v1M768 342v1M769 341v1M770 339v2M771 338v1M772 337v1M773 336v1M774 334v2M775 333v1M776 332v1M777 332v1M778 331v1M779 331v1M780 331v1M781 331v1M782 332v1M783 332v1M784 332v1M785 333v1M786 334v1M787 335v1M788 335v2M789 332v3M790 330v2M791 327v3M792 324v3M793 322v2M794 320v2M795 318v2M796 315v3M797 313v2M798 311v2M799 309v2M800 306v3M801 304v2M802 302v2M803 300v2M804 298v2M805 296v2M806 294v2M807 292v2M808 288v4M809 284v4M810 280v4M811 276v4M812 272v4M813 270v2M814 268v2M815 266v2M816 264v2M817 262v2M818 260v2M819 258v2M820 256v2M821 254v2M822 252v2M823 250v2M824 249v1M825 248v1M826 247v1M827 246v1M828 245v1M829 244v1M830 243v1M831 243v1M832 242v1M833 242v1M834 241v1M835 241v1M836 241v1M837 241v1M838 242v1M839 242v1M840 242v1M841 243v1M842 243v1M843 244v1M844 244v1M845 245v1M846 246v1M847 246v1M848 247v1M849 246v1M850 245v1M851 245v1M852 244v1M853 244v1M854 243v1M855 243v1M856 243v1M857 243v1M858 244v1M859 244v1M860 244v1M861 245v2M862 247v1M863 248v2M864 250v2M865 252v4M866 256v4M867 260v4M868 264v2M869 265v1M870 265v1M871 265v1M872 265v1M873 265v1M874 266v1M875 266v1M876 266v1M877 266v1M878 266v1M879 266v1M880 266v1M881 266v1M882 266v1M883 266v1M884 266v1M885 266v1M886 265v1M887 265v1M888 265v1M889 264v1M890 264v1M891 263v1M892 263v1M893 263v1M894 262v1M895 262v1M896 262v1M897 261v1M898 261v1M899 260v1M900 260v1M901 260v1M902 259v1M903 259v1M904 259v1M905 258v1M906 258v1M907 257v1M908 256v2M909 254v2M910 251v3M911 249v2M912 247v2M913 245v2M914 244v1M915 242v2M916 241v1M917 240v1M918 239v1M919 239v1M920 238v1M921 237v1M922 236v1M923 235v1M924 234v1M925 233v1M926 232v1M927 231v1M928 230v1M929 229v1M930 228v1M931 228v1M932 227v1M933 226v1M934 225v1M935 224v1M936 223v1M937 222v1M938 220v2M939 219v1M940 218v1M941 217v1M942 217v1M943 216v1M944 216v1M945 216v1M946 216v1M947 216v1M948 216v1M949 217v1M950 218v1M951 218v1M952 219v1M953 220v1M954 221v1M955 221v1M956 222v1M957 223v1M958 224v2M959 226v1M960 227v1M961 228v1M962 228v1M963 229v1M964 229v1M965 229v1M966 230v1M967 230v1M968 230v1M969 229v1M970 229v1M971 228v1M972 228v1M973 227v1M974 226v1M975 226v1M976 225v1M977 225v1M978 225v1M979 225v1M980 225v1M981 224v1M982 224v1M983 223v1M984 223v1M985 223v1M986 223v1M987 223v1M988 223v1M989 224v1M990 225v1M991 225v1M992 226v1M993 227v1M994 228v1M995 228v1M996 229v1M997 229v1M998 230v1M999 230v1M1000 230v1M1001 231v1M1002 231v1M1003 232v1M1004 232v1M1005 233v1M1006 233v1M1007 234v1M1008 234v1M1009 235v1M1010 235v1M1011 236v1M1012 236v1M1013 236v1M1014 236v1M1015 236v1M1016 236v1M1017 237v2M1018 239v1M1019 240v2M1020 242v1M1021 243v1M1022 244v2M1023 246v1M1024 247v1M1025 248v1M1026 249v1M1027 249v1M1028 250v1M1029 251v1M1030 251v1M1031 252v1M1032 252v1M1033 252v1M1034 252v1M1035 252v1M1036 252v1M1037 252v1M1038 252v1M1039 252v1M1040 252v1M1041 252v1M1042 253v1M1043 253v1M1044 253v1M1045 254v1M1046 254v1M1047 255v1M1048 255v1M1049 255v1M1050 256v1M1051 256v1M1052 256v1M1053 257v1M1054 257v1M1055 258v1M1056 258v1M1057 259v1M1058 259v1M1059 260v1M1060 260v1M1061 260v1M1062 260v1M1063 260v1M1064 260v1M1065 260v1M1066 260v1M1067 260v1M1068 260v1M1069 260v1M1070 260v1M1071 260v1M1072 260v1M1073 259v1M1074 259v1M1075 258v1M1076 258v1M1077 259v1M1078 260v2M1079 262v1M1080 263v1M1081 262v1M1082 260v2M1083 259v1M1084 258v1M1085 256v2M1086 254v2M1087 252v2M1088 251v1M1089 249v2M1090 248v1M1091 246v2M1092 245v1M1093 243v2M1094 242v1M1095 240v2M1096 239v1M1097 238v1M1098 236v2M1099 235v1M1100 234v1M1101 234v1M1102 233v1M1103 233v1M1104 233v1M1105 233v1M1106 233v1M1107 233v1M1108 233v1M1109 233v1M1110 234v1M1111 234v1M1112 234v1M1113 234v1M1114 235v1M1115 235v1M1116 235v1M1117 236v1M1118 236v1M1119 237v1M1120 237v1M1121 237v1M1122 238v1M1123 238v1M1124 238v1M1125 239v1M1126 240v1M1127 240v1M1128 241v1M1129 242v1M1130 243v1M1131 243v1M1132 244v1M1133 244v1M1134 244v1M1135 244v1M1136 244v1M1137 244v1M1138 244v1M1139 244v1M1140 244v1M1141 244v1M1142 244v1M1143 244v1M1144 244v1M1145 244v1M1146 244v1M1147 244v1M1148 244v1M1149 245v1M1150 245v1M1151 246v1M1152 246v1M1153 246v1M1154 247v1M1155 247v1M1156 247v1M1157 247v1M1158 247v1M1159 247v1M1160 247v1M1161 248v1M1162 249v1M1163 249v1M1164 250v1M1165 251v1M1166 252v1M1167 252v1M1168 253v1M1169 254v1M1170 255v1M1171 256v1M1172 257v1M1173 258v1M1174 259v1M1175 260v1M1176 261v1M1177 259v2M1178 257v2M1179 255v2M1180 254v1M1181 252v2M1182 250v2M1183 248v2M1184 247v1M1185 247v1M1186 247v1M1187 247v1M1188 247v1M1189 247v1M1190 247v1M1191 247v1M1192 247v1M1193 247v1M1194 247v1M1195 247v1M1196 247v1M1197 247v1M1198 248v1M1199 248v1M1200 248v1M1201 248v1M1202 247v1M1203 247v1M1204 247v1M1205 247v1M1206 247v1M1207 247v1M1208 247v1M1209 248v1M1210 249v1M1211 250v1M1212 251v1M1213 250v1M1214 249v1M1215 249v1M1216 248v1M1217 247v1M1218 247v1M1219 246v1M1220 246v1M1221 247v2M1222 249v1M1223 250v2M1224 252v1M1225 253v1M1226 253v1M1227 254v1M1228 254v1M1229 255v2M1230 257v2M1231 259v2M1232 261v3M1233 264v3M1234 267v3M1235 270v3M1236 273v3M1237 276v3M1238 279v3M1239 282v3M1240 285v3M1241 288v4M1242 292v4M1243 296v4M1244 300v4M1245 304v3M1246 307v3M1247 310v3M1248 313v3M1249 316v3M1250 319v3M1251 322v3M1252 325v3M1253 328v3M1254 331v3M1255 334v3M1256 337v2M1257 338v1M1258 339v1M1259 339v1M1260 339v1M1261 339v1M1262 339v1M1263 339v1M1264 339v1M1265 340v1M1266 341v2M1267 343v1M1268 344v1M1269 345v1M1270 346v2M1271 348v1M1272 349v1M1273 349v1M1274 349v1M1275 349v1M1276 349v1M1277 350v1M1278 351v1M1279 351v1M1280 352v1M1281 352v1M1282 351v1M1283 351v1M1284 351v1M1285 350v1M1286 350v1M1287 349v1M1288 349v1M1289 350v1M1290 351v2M1291 353v1M1292 354v1M1293 355v1M1294 355v1M1295 356v1M1296 356v1" fill="none" stroke="#e6e600" stroke-width="1" transform="translate(.5,0)" />
<path d="M68 237v1M69 236v1M70 235v1M71 235v1M72 234v1M73 234v1M74 234v1M75 234v1M76 234v1M77 234v1M78 235v1M79 235v1M80 235v1M81 236v1M82 236v1M83 237v1M84 237v1M85 236v1M86 235v1M87 235v1M88 234v1M89 234v1M90 233v1M91 233v1M92 233v1M93 232v1M94 232v1M95 231v1M96 231v1M97 232v1M98 232v1M99 233v1M100 233v1M101 233v1M102 234v1M103 234v1M104 234v1M105 233v1M106 232v1M107 232v1M108 231v1M109 229v2M110 228v1M111 226v2M112 225v1M113 224v1M114 223v1M115 222v1M116 221v1M117 220v1M118 219v1M119 218v1M120 217v1M121 216v1M122 216v1M123 215v1M124 215v1M125 214v1M126 214v1M127 213v1M128 213v1M129 212v1M130 212v1M131 211v1M132 211v1M133 210v1M134 209v1M135 208v1M136 207v1M137 206v1M138 205v1M139 204v1M140 203v1M141 202v1M142 201v1M143 200v1M144 199v1M145 198v1M146 197v1M147 196v1M148 195v1M149 194v1M150 193v1M151 192v1M152 190v2M153 188v2M154 186v2M155 184v2M156 182v2M157 180v2M158 178v2M159 176v2M160 175v1M161 174v1M162 173v1M163 172v1M164 171v1M165 171v1M166 170v1M167 170v1M168 170v1M169 171v2M170 173v2M171 175v2M172 177v2M173 179v1M174 180v1M175 181v1M176 182v1M177 183v1M178 184v1M179 185v1M180 186v2M181 188v2M182 190v2M183 192v2M184 194v3M185 197v2M186 199v2M187 201v2M188 203v3M189 206v2M190 208v2M191 210v2M192 212v2M193 213v1M194 214v1M195 214v1M196 214v1M197 214v1M198 214v1M199 214v1M200 214v1M201 214v1M202 214v1M203 214v1M204 214v1M205 214v1M206 213v1M207 213v1M208 213v1M209 213v1M210 213v1M211 213v1M212 213v1M213 213v1M214 214v1M215 214v1M216 214v1M217 214v1M218 215v1M219 215v1M220 215v1M221 216v1M222 216v1M223 217v1M224 217v1M225 218v1M226 218v1M227 219v1M228 219v1M229 219v1M230 220v1M231 220v1M232 220v1M233 220v1M234 221v1M235 221v1M236 221v1M237 221v1M238 222v1M239 222v1M240 222v1M241 223v1M242 223v1M243 224v1M244 224v1M245 224v1M246 225v1M247 225v1M248 225v1M249 224v1M250 222v2M251 221v1M252 220v1M253 218v2M254 217v1M255 215v2M256 214v1M257 212v2M258 211v1M259 209v2M260 207v2M261 205v2M262 202v3M263 200v2M264 196v4M265 192v4M266 187v5M267 183v4M268 178v5M269 172v6M270 166v6M271 160v6M272 156v4M273 155v1M274 153v2M275 152v1M276 151v1M277 150v1M278 150v1M279 149v1M280 149v1M281 148v1M282 147v1M283 147v1M284 146v1M285 145v1M286 144v1M287 143v1M288 142v1M289 142v1M290 141v1M291 141v1M292 141v1M293 141v1M294 141v1M295 141v1M296 141v1M297 141v1M298 141v1M299 141v1M300 141v1M301 142v1M302 143v1M303 143v1M304 144v1M305 144v1M306 145v1M307 145v1M308 145v1M309 145v1M310 146v1M311 146v1M312 146v1M313 146v1M314 146v1M315 146v1M316 146v1M317 145v1M318 145v1M319 144v1M320 144v1M321 144v1M322 143v1M323 143v1M324 143v1M325 143v1M326 142v1M327 142v1M328 142v1M329 142v1M330 142v1M331 142v1M332 142v1M333 142v1M334 142v1M335 142v1M336 142v2M337 144v2M338 146v2M339 148v2M340 150v2M341 152v2M342 154v2M343 156v2M344 158v1M345 159v2M346 161v1M347 162v2M348 164v1M349 165v1M350 166v2M351 168v1M352 169v1M353 170v1M354 171v1M355 172v1M356 173v1M357 174v1M358 174v1M359 175v1M360 175v1M361 176v1M362 176v1M363 177v1M364 177v1M365 178v1M366 178v1M367 179v1M368 179v1M369 179v1M370 179v1M371 179v1M372 179v1M373 179v1M374 179v1M375 179v1M376 179v1M377 179v1M378 179v1M379 179v1M380 179v1M381 179v1M382 179v1M383 179v1M384 179v1M385 180v1M386 180v1M387 181v1M388 181v1M389 182v1M390 183v1M391 184v1M392 185v1M393 186v1M394 186v1M395 187v1M396 187v1M397 187v1M398 188v1M399 188v1M400 188v1M401 188v1M402 187v1M403 187v1M404 187v1M405 186v1M406 186v1M407 185v1M408 185v1M409 184v1M410 184v1M411 183v1M412 183v1M413 182v1M414 182v1M415 181v1M416 181v1M417 182v2M418 184v2M419 186v2M420 188v2M421 190v2M422 192v2M423 194v2M424 196v2M425 198v2M426 200v1M427 201v2M428 203v1M429 204v2M430 206v1M431 207v2M432 209v1M433 210v2M434 212v2M435 214v2M436 216v1M437 217v1M438 218v2M439 220v1M440 221v2M441 223v2M442 225v2M443 227v2M444 229v2M445 231v2M446 233v1M447 234v2M448 236v1M449 237v1M450 238v2M451 240v1M452 241v1M453 241v1M454 242v1M455 242v1M456 242v1M457 241v1M458 240v1M459 240v1M460 239v1M461 238v1M462 238v1M463 237v1M464 237v1M465 236v1M466 236v1M467 235v1M468 235v1M469 235v1M470 234v1M471 234v1M472 234v1M473 234v1M474 233v1M475 233v1M476 233v1M477 233v1M478 232v1M479 232v1M480 232v1M481 231v1M482 231v1M483 230v1M484 230v1M485 229v1M486 229v1M487 228v1M488 228v1M489 227v1M490 226v1M491 225v1M492 224v1M493 224v1M494 225v1M495 225v1M496 225v1M497 226v2M498 228v2M499 230v2M500 232v1M501 232v1M502 232v1M503 232v1M504 232v1M505 233v1M506 233v1M507 234v1M508 234v1M509 234v1M510 233v1M511 233v1M512 233v1M513 233v1M514 232v1M515 232v1M516 232v1M517 231v1M518 230v1M519 230v1M520 229v1M521 228v1M522 227v1M523 226v1M524 225v1M525 224v1M526 223v1M527 223v1M528 222v1M529 222v1M530 222v1M531 222v1M532 222v1M533 222v1M534 222v1M535 222v1M536 222v1M537 222v1M538 222v1M539 222v1M540 222v1M541 223v1M542 223v1M543 224v1M544 224v1M545 225v2M546 227v2M547 229v2M548 231v1M549 232v2M550 234v1M551 235v2M552 237v2M553 239v3M554 242v3M555 245v3M556 248v3M557 251v3M558 254v4M559 258v3M560 261v3M561 264v3M562 267v3M563 270v3M564 273v3M565 276v3M566 279v3M567 282v3M568 285v3M569 288v3M570 291v2M571 293v3M572 296v5M573 301v7M574 308v6M575 314v7M576 321v6M577 327v6M578 333v6M579 339v6M580 345v5M581 350v4M582 354v4M583 358v4M584 362v4M585 366v2M586 368v3M587 371v2M588 373v3M589 376v3M590 379v3M591 382v3M592 385v2M593 387v2M594 389v2M595 391v2M596 393v2M597 395v2M598 397v2M599 399v2M600 401v1M601 402v2M602 404v2M603 406v2M604 408v2M605 410v2M606 412v3M607 415v2M608 417v2M609 419v2M610 421v2M611 423v2M612 425v2M613 427v1M614 428v2M615 430v1M616 431v1M617 431v1M618 432v1M619 432v1M620 432v1M621 431v1M622 430v1M623 430v1M624 429v1M625 428v1M626 428v1M627 427v1M628 427v1M629 425v2M630 423v2M631 421v2M632 420v1M633 419v1M634 417v2M635 416v1M636 415v1M637 414v1M638 412v2M639 411v1M640 410v1M641 409v1M642 407v2M643 406v1M644 405v1M645 403v2M646 402v1M647 400v2M648 399v1M649 398v1M650 397v1M651 396v1M652 395v1M653 396v1M654 397v1M655 397v1M656 398v1M657 398v1M658 399v1M659 399v1M660 399v1M661 399v1M662 400v1M663 400v1M664 400v1M665 401v1M666 402v1M667 402v1M668 403v1M669 404v2M670 406v2M671 408v2M672 410v2M673 412v2M674 414v2M675 416v2M676 418v1M677 419v1M678 420v1M679 421v1M680 422v1M681 423v1M682 423v1M683 424v1M684 424v1M685 425v1M686 425v1M687 426v1M688 426v1M689 426v1M690 427v1M691 427v1M692 427v1M693 427v1M694 427v1M695 427v1M696 427v1M697 427v1M698 427v1M699 427v1M700 427v1M701 427v1M702 427v1M703 427v1M704 427v1M705 427v1M706 427v1M707 427v1M708 427v1M709 427v1M710 428v1M711 428v1M712 428v1M713 427v1M714 427v1M715 426v1M716 426v1M717 426v1M718 426v1M719 426v1M720 426v1M721 426v1M722 425v1M723 425v1M724 425v1M725 425v1M726 425v1M727 425v1M728 425v1M729 425v1M730 425v1M731 425v1M732 425v1M733 425v1M734 425v1M735 425v1M736 425v1M737 425v1M738 426v1M739 426v1M740 426v1M741 426v1M742 427v1M743 427v1M744 427v1M745 427v1M746 428v1M747 428v1M748 428v1M749 427v1M750 426v1M751 425v1M752 424v1M753 423v1M754 423v1M755 422v1M756 422v1M757 422v1M758 422v1M759 422v1M760 422v1M761 423v1M762 423v1M763 424v1M764 424v1M765 424v1M766 425v1M767 425v1M768 425v1M769 425v1M770 426v1M771 426v1M772 426v1M773 426v1M774 427v1M775 427v1M776 427v1M777 427v1M778 427v1M779 427v1M780 427v1M781 427v1M782 427v1M783 427v1M784 427v1M785 427v1M786 427v1M787 427v1M788 427v1M789 428v2M790 430v1M791 431v2M792 433v1M793 434v1M794 435v1M795 436v1M796 437v1M797 438v1M798 438v1M799 439v1M800 439v1M801 440v1M802 440v1M803 441v1M804 441v1M805 442v1M806 442v1M807 443v1M808 443v1M809 443v1M810 444v1M811 444v1M812 444v1M813 444v1M814 444v1M815 444v1M816 444v1M817 443v1M818 443v1M819 442v1M820 442v1M821 441v1M822 440v1M823 439v1M824 438v1M825 436v2M826 435v1M827 433v2M828 432v1M829 430v2M830 428v2M831 426v2M832 423v3M833 421v2M834 419v2M835 417v2M836 414v3M837 412v2M838 410v2M839 408v2M840 405v3M841 401v4M842 397v4M843 393v4M844 389v4M845 385v4M846 381v4M847 377v4M848 374v3M849 373v1M850 371v2M851 370v1M852 369v1M853 368v1M854 367v1M855 367v1M856 366v1M857 364v2M858 362v2M859 360v2M860 357v3M861 353v4M862 350v3M863 346v4M864 342v4M865 336v6M866 330v6M867 324v6M868 320v4M869 321v1M870 321v1M871 322v1M872 322v1M873 321v1M874 321v1M875 320v1M876 320v1M877 320v1M878 320v1M879 320v1M880 320v1M881 320v1M882 320v1M883 320v1M884 320v1M885 320v1M886 320v1M887 320v1M888 320v1M889 320v1M890 320v1M891 320v1M892 320v1M893 320v1M894 320v1M895 320v1M896 320v1M897 320v1M898 320v1M899 320v1M900 320v1M901 320v1M902 320v1M903 320v1M904 320v1M905 321v1M906 321v1M907 322v1M908 322v1M909 323v1M910 324v1M911 324v1M912 325v1M913 325v1M914 325v1M915 325v1M916 325v1M917 325v1M918 326v1M919 326v1M920 326v1M921 327v1M922 327v1M923 328v1M924 328v1M925 328v1M926 329v1M927 329v1M928 329v1M929 329v1M930 330v1M931 330v1M932 330v1M933 330v1M934 329v1M935 329v1M936 329v1M937 329v1M938 328v1M939 328v1M940 328v1M941 328v1M942 327v1M943 327v1M944 327v1M945 326v1M946 325v1M947 325v1M948 324v1M949 323v1M950 321v2M951 320v1M952 319v1M953 317v2M954 315v2M955 313v2M956 311v2M957 309v2M958 307v2M959 305v2M960 303v2M961 301v2M962 300v1M963 298v2M964 297v1M965 296v1M966 296v1M967 295v1M968 295v1M969 295v1M970 296v1M971 296v1M972 296v1M973 297v2M974 299v1M975 300v2M976 302v1M977 302v1M978 303v1M979 303v1M980 303v1M981 304v2M982 306v1M983 307v2M984 309v1M985 309v1M986 310v1M987 310v1M988 310v1M989 310v1M990 310v1M991 310v1M992 310v1M993 310v1M994 310v1M995 310v1M996 310v1M997 310v1M998 310v1M999 310v1M1000 310v1M1001 310v1M1002 310v1M1003 310v1M1004 310v1M1005 311v2M1006 313v1M1007 314v2M1008 316v1M1009 317v1M1010 318v2M1011 320v1M1012 321v1M1013 322v2M1014 324v1M1015 325v2M1016 327v1M1017 328v1M1018 329v1M1019 329v1M1020 330v1M1021 331v1M1022 332v1M1023 332v1M1024 333v1M1025 334v1M1026 335v1M1027 335v1M1028 336v1M1029 337v1M1030 337v1M1031 338v1M1032 338v1M1033 339v2M1034 341v2M1035 343v2M1036 345v1M1037 346v1M1038 347v1M1039 348v1M1040 349v1M1041 350v1M1042 351v1M1043 352v1M1044 353v1M1045 354v1M1046 355v1M1047 356v1M1048 357v1M1049 358v1M1050 358v1M1051 359v1M1052 359v1M1053 359v1M1054 359v1M1055 359v1M1056 359v1M1057 359v1M1058 359v1M1059 359v1M1060 359v1M1061 359v1M1062 359v1M1063 359v1M1064 359v1M1065 359v1M1066 358v1M1067 358v1M1068 358v1M1069 358v1M1070 358v1M1071 358v1M1072 358v1M1073 358v1M1074 359v1M1075 359v1M1076 359v1M1077 358v1M1078 358v1M1079 357v1M1080 357v1M1081 358v1M1082 358v1M1083 359v1M1084 359v1M1085 359v1M1086 360v1M1087 360v1M1088 360v1M1089 360v1M1090 361v1M1091 361v1M1092 361v1M1093 361v1M1094 360v1M1095 360v1M1096 360v1M1097 359v1M1098 359v1M1099 358v1M1100 358v1M1101 357v1M1102 357v1M1103 356v1M1104 356v1M1105 355v1M1106 354v1M1107 354v1M1108 353v1M1109 352v1M1110 352v1M1111 351v1M1112 351v1M1113 349v2M1114 348v1M1115 346v2M1116 345v1M1117 343v2M1118 342v1M1119 340v2M1120 339v1M1121 338v1M1122 337v1M1123 337v1M1124 336v1M1125 335v1M1126 334v1M1127 334v1M1128 333v1M1129 331v2M1130 329v2M1131 327v2M1132 325v2M1133 324v1M1134 324v1M1135 323v1M1136 323v1M1137 323v1M1138 323v1M1139 323v1M1140 323v1M1141 323v1M1142 322v1M1143 322v1M1144 322v1M1145 323v1M1146 323v1M1147 324v1M1148 324v1M1149 324v1M1150 325v1M1151 325v1M1152 325v1M1153 325v1M1154 325v1M1155 325v1M1156 325v1M1157 325v1M1158 325v1M1159 325v1M1160 325v1M1161 325v1M1162 324v1M1163 324v1M1164 324v1M1165 324v1M1166 324v1M1167 324v1M1168 324v1M1169 324v1M1170 324v1M1171 324v1M1172 324v1M1173 325v1M1174 326v1M1175 326v1M1176 327v3M1177 330v6M1178 336v5M1179 341v6M1180 347v5M1181 352v4M1182 356v4M1183 360v4M1184 364v3M1185 367v1M1186 368v2M1187 370v1M1188 371v1M1189 372v1M1190 373v2M1191 375v1M1192 376v1M1193 377v2M1194 379v1M1195 380v2M1196 382v1M1197 383v1M1198 384v1M1199 384v1M1200 385v1M1201 386v2M1202 388v1M1203 389v2M1204 391v1M1205 392v2M1206 394v1M1207 395v2M1208 397v1M1209 398v1M1210 399v2M1211 401v1M1212 402v2M1213 404v3M1214 407v4M1215 411v3M1216 414v3M1217 417v4M1218 421v4M1219 425v4M1220 429v2M1221 431v1M1222 432v1M1223 433v1M1224 434v1M1225 435v2M1226 437v1M1227 438v2M1228 440v1M1229 441v1M1230 441v1M1231 442v1M1232 442v1M1233 443v1M1234 444v1M1235 444v1M1236 445v1M1237 446v1M1238 446v1M1239 447v1M1240 447v1M1241 446v1M1242 446v1M1243 445v1M1244 445v1M1245 445v1M1246 444v1M1247 444v1M1248 444v1M1249 443v1M1250 441v2M1251 440v1M1252 439v1M1253 438v1M1254 437v1M1255 436v1M1256 435v1M1257 435v1M1258 436v1M1259 436v1M1260 436v1M1261 436v1M1262 436v1M1263 436v1M1264 436v1M1265 436v1M1266 436v1M1267 436v1M1268 436v1M1269 435v1M1270 435v1M1271 434v1M1272 434v2M1273 436v2M1274 438v2M1275 440v2M1276 442v2M1277 444v2M1278 446v1M1279 447v2M1280 449v2M1281 451v3M1282 454v4M1283 458v3M1284 461v3M1285 464v2M1286 466v3M1287 469v2M1288 471v3M1289 474v2M1290 476v2M1291 478v2M1292 480v2M1293 482v1M1294 482v1M1295 483v1M1296 483v1" fill="none" stroke="#e020e0" stroke-width="1" transform="translate(.5,0)" />
</g>
<g shape-rendering="crispEdges">
<rect x="68" y="570" width="1" height="43" fill="#ea4d5f"/>
<rect x="72" y="569" width="1" height="44" fill="#ea4d5f"/>
<rect x="76" y="574" width="1" height="39" fill="#ea4d5f"/>
<rect x="80" y="570" width="1" height="43" fill="#ea4d5f"/>
<rect x="84" y="568" width="1" height="45" fill="#ea4d5f"/>
<rect x="88" y="569" width="1" height="44" fill="#ea4d5f"/>
<rect x="92" y="567" width="1" height="46" fill="#ea4d5f"/>
<rect x="96" y="568" width="1" height="45" fill="#ea4d5f"/>
<rect x="100" y="561" width="1" height="52" fill="#ea4d5f"/>
<rect x="104" y="558" width="1" height="55" fill="#ea4d5f"/>
<rect x="108" y="560" width="1" height="53" fill="#ea4d5f"/>
<rect x="112" y="565" width="1" height="48" fill="#ea4d5f"/>
<rect x="116" y="573" width="1" height="40" fill="#ea4d5f"/>
<rect x="120" y="579" width="1" height="34" fill="#ea4d5f"/>
<rect x="124" y="584" width="1" height="29" fill="#ea4d5f"/>
<rect x="128" y="588" width="1" height="25" fill="#ea4d5f"/>
<rect x="132" y="587" width="1" height="26" fill="#ea4d5f"/>
<rect x="136" y="589" width="1" height="24" fill="#ea4d5f"/>
<rect x="140" y="592" width="1" height="21" fill="#ea4d5f"/>
<rect x="144" y="594" width="1" height="19" fill="#ea4d5f"/>
<rect x="148" y="593" width="1" height="20" fill="#ea4d5f"/>
<rect x="152" y="595" width="1" height="18" fill="#ea4d5f"/>
<rect x="156" y="599" width="1" height="14" fill="#ea4d5f"/>
<rect x="160" y="603" width="1" height="10" fill="#ea4d5f"/>
<rect x="164" y="610" width="1" height="3" fill="#ea4d5f"/>
<rect x="168" y="612" width="1" height="12" fill="#4fbf8f"/>
<rect x="172" y="612" width="1" height="26" fill="#4fbf8f"/>
<rect x="176" y="612" width="1" height="32" fill="#4fbf8f"/>
<rect x="180" y="612" width="1" height="35" fill="#4fbf8f"/>
<rect x="184" y="612" width="1" height="37" fill="#4fbf8f"/>
<rect x="188" y="612" width="1" height="41" fill="#4fbf8f"/>
<rect x="192" y="612" width="1" height="44" fill="#4fbf8f"/>
<rect x="196" y="612" width="1" height="22" fill="#4fbf8f"/>
<rect x="200" y="611" width="1" height="2" fill="#ea4d5f"/>
<rect x="204" y="599" width="1" height="14" fill="#ea4d5f"/>
<rect x="208" y="597" width="1" height="16" fill="#ea4d5f"/>
<rect x="212" y="594" width="1" height="19" fill="#ea4d5f"/>
<rect x="216" y="588" width="1" height="25" fill="#ea4d5f"/>
<rect x="220" y="584" width="1" height="29" fill="#ea4d5f"/>
<rect x="224" y="575" width="1" height="38" fill="#ea4d5f"/>
<rect x="228" y="571" width="1" height="42" fill="#ea4d5f"/>
<rect x="232" y="575" width="1" height="38" fill="#ea4d5f"/>
<rect x="236" y="581" width="1" height="32" fill="#ea4d5f"/>
<rect x="240" y="577" width="1" height="36" fill="#ea4d5f"/>
<rect x="244" y="582" width="1" height="31" fill="#ea4d5f"/>
<rect x="248" y="581" width="1" height="32" fill="#ea4d5f"/>
<rect x="252" y="584" width="1" height="29" fill="#ea4d5f"/>
<rect x="256" y="586" width="1" height="27" fill="#ea4d5f"/>
<rect x="260" y="589" width="1" height="24" fill="#ea4d5f"/>
<rect x="264" y="596" width="1" height="17" fill="#ea4d5f"/>
<rect x="268" y="609" width="1" height="4" fill="#ea4d5f"/>
<rect x="272" y="612" width="1" height="10" fill="#4fbf8f"/>
<rect x="276" y="612" width="1" height="14" fill="#4fbf8f"/>
<rect x="280" y="612" width="1" height="18" fill="#4fbf8f"/>
<rect x="284" y="612" width="1" height="19" fill="#4fbf8f"/>
<rect x="288" y="612" width="1" height="25" fill="#4fbf8f"/>
<rect x="292" y="612" width="1" height="32" fill="#4fbf8f"/>
<rect x="296" y="612" width="1" height="31" fill="#4fbf8f"/>
<rect x="300" y="612" width="1" height="29" fill="#4fbf8f"/>
<rect x="304" y="612" width="1" height="28" fill="#4fbf8f"/>
<rect x="308" y="612" width="1" height="25" fill="#4fbf8f"/>
<rect x="312" y="612" width="1" height="19" fill="#4fbf8f"/>
<rect x="316" y="612" width="1" height="6" fill="#4fbf8f"/>
<rect x="320" y="609" width="1" height="4" fill="#ea4d5f"/>
<rect x="324" y="606" width="1" height="7" fill="#ea4d5f"/>
<rect x="328" y="605" width="1" height="8" fill="#ea4d5f"/>
<rect x="332" y="604" width="1" height="9" fill="#ea4d5f"/>
<rect x="336" y="602" width="1" height="11" fill="#ea4d5f"/>
<rect x="340" y="612" width="1" height="15" fill="#4fbf8f"/>
<rect x="344" y="612" width="1" height="29" fill="#4fbf8f"/>
<rect x="348" y="612" width="1" height="37" fill="#4fbf8f"/>
<rect x="352" y="612" width="1" height="38" fill="#4fbf8f"/>
<rect x="356" y="612" width="1" height="38" fill="#4fbf8f"/>
<rect x="360" y="612" width="1" height="30" fill="#4fbf8f"/>
<rect x="364" y="612" width="1" height="22" fill="#4fbf8f"/>
<rect x="368" y="612" width="1" height="20" fill="#4fbf8f"/>
<rect x="372" y="612" width="1" height="13" fill="#4fbf8f"/>
<rect x="376" y="612" width="1" height="7" fill="#4fbf8f"/>
<rect x="380" y="610" width="1" height="3" fill="#ea4d5f"/>
<rect x="384" y="606" width="1" height="7" fill="#ea4d5f"/>
<rect x="388" y="608" width="1" height="5" fill="#ea4d5f"/>
<rect x="392" y="612" width="1" height="8" fill="#4fbf8f"/>
<rect x="396" y="612" width="1" height="12" fill="#4fbf8f"/>
<rect x="400" y="612" width="1" height="13" fill="#4fbf8f"/>
<rect x="404" y="612" width="1" height="10" fill="#4fbf8f"/>
<rect x="408" y="612" width="1" height="8" fill="#4fbf8f"/>
<rect x="412" y="612" width="1" height="5" fill="#4fbf8f"/>
<rect x="416" y="612" width="1" height="16" fill="#4fbf8f"/>
<rect x="420" y="612" width="1" height="22" fill="#4fbf8f"/>
<rect x="424" y="612" width="1" height="26" fill="#4fbf8f"/>
<rect x="428" y="612" width="1" height="29" fill="#4fbf8f"/>
<rect x="432" y="612" width="1" height="27" fill="#4fbf8f"/>
<rect x="436" y="612" width="1" height="25" fill="#4fbf8f"/>
<rect x="440" y="612" width="1" height="28" fill="#4fbf8f"/>
<rect x="444" y="612" width="1" height="27" fill="#4fbf8f"/>
<rect x="448" y="612" width="1" height="23" fill="#4fbf8f"/>
<rect x="452" y="612" width="1" height="20" fill="#4fbf8f"/>
<rect x="456" y="612" width="1" height="12" fill="#4fbf8f"/>
<rect x="460" y="612" width="1" height="2" fill="#4fbf8f"/>
<rect x="464" y="609" width="1" height="4" fill="#ea4d5f"/>
<rect x="468" y="604" width="1" height="9" fill="#ea4d5f"/>
<rect x="472" y="596" width="1" height="17" fill="#ea4d5f"/>
<rect x="476" y="587" width="1" height="26" fill="#ea4d5f"/>
<rect x="480" y="583" width="1" height="30" fill="#ea4d5f"/>
<rect x="484" y="582" width="1" height="31" fill="#ea4d5f"/>
<rect x="488" y="581" width="1" height="32" fill="#ea4d5f"/>
<rect x="492" y="582" width="1" height="31" fill="#ea4d5f"/>
<rect x="496" y="582" width="1" height="31" fill="#ea4d5f"/>
<rect x="500" y="571" width="1" height="42" fill="#ea4d5f"/>
<rect x="504" y="574" width="1" height="39" fill="#ea4d5f"/>
<rect x="508" y="573" width="1" height="40" fill="#ea4d5f"/>
<rect x="512" y="580" width="1" height="33" fill="#ea4d5f"/>
<rect x="516" y="579" width="1" height="34" fill="#ea4d5f"/>
<rect x="520" y="578" width="1" height="35" fill="#ea4d5f"/>
<rect x="524" y="580" width="1" height="33" fill="#ea4d5f"/>
<rect x="528" y="604" width="1" height="9" fill="#ea4d5f"/>
<rect x="532" y="612" width="1" height="13" fill="#4fbf8f"/>
<rect x="536" y="612" width="1" height="22" fill="#4fbf8f"/>
<rect x="540" y="612" width="1" height="24" fill="#4fbf8f"/>
<rect x="544" y="612" width="1" height="30" fill="#4fbf8f"/>
<rect x="548" y="612" width="1" height="37" fill="#4fbf8f"/>
<rect x="552" y="612" width="1" height="35" fill="#4fbf8f"/>
<rect x="556" y="612" width="1" height="44" fill="#4fbf8f"/>
<rect x="560" y="612" width="1" height="50" fill="#4fbf8f"/>
<rect x="564" y="612" width="1" height="53" fill="#4fbf8f"/>
<rect x="568" y="612" width="1" height="54" fill="#4fbf8f"/>
<rect x="572" y="612" width="1" height="53" fill="#4fbf8f"/>
<rect x="576" y="612" width="1" height="70" fill="#4fbf8f"/>
<rect x="580" y="612" width="1" height="76" fill="#4fbf8f"/>
<rect x="584" y="612" width="1" height="78" fill="#4fbf8f"/>
<rect x="588" y="612" width="1" height="66" fill="#4fbf8f"/>
<rect x="592" y="612" width="1" height="57" fill="#4fbf8f"/>
<rect x="596" y="612" width="1" height="47" fill="#4fbf8f"/>
<rect x="600" y="612" width="1" height="45" fill="#4fbf8f"/>
<rect x="604" y="612" width="1" height="44" fill="#4fbf8f"/>
<rect x="608" y="612" width="1" height="42" fill="#4fbf8f"/>
<rect x="612" y="612" width="1" height="34" fill="#4fbf8f"/>
<rect x="616" y="612" width="1" height="22" fill="#4fbf8f"/>
<rect x="620" y="612" width="1" height="10" fill="#4fbf8f"/>
<rect x="624" y="607" width="1" height="6" fill="#ea4d5f"/>
<rect x="628" y="597" width="1" height="16" fill="#ea4d5f"/>
<rect x="632" y="585" width="1" height="28" fill="#ea4d5f"/>
<rect x="636" y="579" width="1" height="34" fill="#ea4d5f"/>
<rect x="640" y="573" width="1" height="40" fill="#ea4d5f"/>
<rect x="644" y="567" width="1" height="46" fill="#ea4d5f"/>
<rect x="648" y="576" width="1" height="37" fill="#ea4d5f"/>
<rect x="652" y="592" width="1" height="21" fill="#ea4d5f"/>
<rect x="656" y="596" width="1" height="17" fill="#ea4d5f"/>
<rect x="660" y="596" width="1" height="17" fill="#ea4d5f"/>
<rect x="664" y="593" width="1" height="20" fill="#ea4d5f"/>
<rect x="668" y="594" width="1" height="19" fill="#ea4d5f"/>
<rect x="672" y="608" width="1" height="5" fill="#ea4d5f"/>
<rect x="676" y="612" width="1" height="2" fill="#4fbf8f"/>
<rect x="680" y="611" width="1" height="2" fill="#ea4d5f"/>
<rect x="684" y="607" width="1" height="6" fill="#ea4d5f"/>
<rect x="688" y="599" width="1" height="14" fill="#ea4d5f"/>
<rect x="692" y="596" width="1" height="17" fill="#ea4d5f"/>
<rect x="696" y="584" width="1" height="29" fill="#ea4d5f"/>
<rect x="700" y="576" width="1" height="37" fill="#ea4d5f"/>
<rect x="704" y="570" width="1" height="43" fill="#ea4d5f"/>
<rect x="708" y="564" width="1" height="49" fill="#ea4d5f"/>
<rect x="712" y="559" width="1" height="54" fill="#ea4d5f"/>
<rect x="716" y="563" width="1" height="50" fill="#ea4d5f"/>
<rect x="720" y="578" width="1" height="35" fill="#ea4d5f"/>
<rect x="724" y="590" width="1" height="23" fill="#ea4d5f"/>
<rect x="728" y="597" width="1" height="16" fill="#ea4d5f"/>
<rect x="732" y="601" width="1" height="12" fill="#ea4d5f"/>
<rect x="736" y="605" width="1" height="8" fill="#ea4d5f"/>
<rect x="740" y="607" width="1" height="6" fill="#ea4d5f"/>
<rect x="744" y="609" width="1" height="4" fill="#ea4d5f"/>
<rect x="748" y="612" width="1" height="2" fill="#4fbf8f"/>
<rect x="752" y="612" width="1" height="2" fill="#4fbf8f"/>
<rect x="756" y="612" width="1" height="2" fill="#4fbf8f"/>
<rect x="760" y="612" width="1" height="2" fill="#4fbf8f"/>
<rect x="764" y="612" width="1" height="7" fill="#4fbf8f"/>
<rect x="768" y="612" width="1" height="2" fill="#4fbf8f"/>
<rect x="772" y="594" width="1" height="19" fill="#ea4d5f"/>
<rect x="776" y="578" width="1" height="35" fill="#ea4d5f"/>
<rect x="780" y="577" width="1" height="36" fill="#ea4d5f"/>
<rect x="784" y="582" width="1" height="31" fill="#ea4d5f"/>
<rect x="788" y="588" width="1" height="25" fill="#ea4d5f"/>
<rect x="792" y="569" width="1" height="44" fill="#ea4d5f"/>
<rect x="796" y="565" width="1" height="48" fill="#ea4d5f"/>
<rect x="800" y="563" width="1" height="50" fill="#ea4d5f"/>
<rect x="804" y="565" width="1" height="48" fill="#ea4d5f"/>
<rect x="808" y="563" width="1" height="50" fill="#ea4d5f"/>
<rect x="812" y="562" width="1" height="51" fill="#ea4d5f"/>
<rect x="816" y="564" width="1" height="49" fill="#ea4d5f"/>
<rect x="820" y="566" width="1" height="47" fill="#ea4d5f"/>
<rect x="824" y="575" width="1" height="38" fill="#ea4d5f"/>
<rect x="828" y="578" width="1" height="35" fill="#ea4d5f"/>
<rect x="832" y="586" width="1" height="27" fill="#ea4d5f"/>
<rect x="836" y="596" width="1" height="17" fill="#ea4d5f"/>
<rect x="840" y="599" width="1" height="14" fill="#ea4d5f"/>
<rect x="844" y="600" width="1" height="13" fill="#ea4d5f"/>
<rect x="848" y="602" width="1" height="11" fill="#ea4d5f"/>
<rect x="852" y="606" width="1" height="7" fill="#ea4d5f"/>
<rect x="856" y="612" width="1" height="3" fill="#4fbf8f"/>
<rect x="860" y="612" width="1" height="9" fill="#4fbf8f"/>
<rect x="864" y="612" width="1" height="9" fill="#4fbf8f"/>
<rect x="868" y="612" width="1" height="17" fill="#4fbf8f"/>
<rect x="872" y="612" width="1" height="27" fill="#4fbf8f"/>
<rect x="876" y="612" width="1" height="32" fill="#4fbf8f"/>
<rect x="880" y="612" width="1" height="35" fill="#4fbf8f"/>
<rect x="884" y="612" width="1" height="33" fill="#4fbf8f"/>
<rect x="888" y="612" width="1" height="25" fill="#4fbf8f"/>
<rect x="892" y="612" width="1" height="14" fill="#4fbf8f"/>
<rect x="896" y="612" width="1" height="7" fill="#4fbf8f"/>
<rect x="900" y="612" width="1" height="4" fill="#4fbf8f"/>
<rect x="904" y="611" width="1" height="2" fill="#ea4d5f"/>
<rect x="908" y="610" width="1" height="3" fill="#ea4d5f"/>
<rect x="912" y="600" width="1" height="13" fill="#ea4d5f"/>
<rect x="916" y="596" width="1" height="17" fill="#ea4d5f"/>
<rect x="920" y="598" width="1" height="15" fill="#ea4d5f"/>
<rect x="924" y="598" width="1" height="15" fill="#ea4d5f"/>
<rect x="928" y="597" width="1" height="16" fill="#ea4d5f"/>
<rect x="932" y="600" width="1" height="13" fill="#ea4d5f"/>
<rect x="936" y="606" width="1" height="7" fill="#ea4d5f"/>
<rect x="940" y="605" width="1" height="8" fill="#ea4d5f"/>
<rect x="944" y="609" width="1" height="4" fill="#ea4d5f"/>
<rect x="948" y="612" width="1" height="7" fill="#4fbf8f"/>
<rect x="952" y="612" width="1" height="17" fill="#4fbf8f"/>
<rect x="956" y="612" width="1" height="23" fill="#4fbf8f"/>
<rect x="960" y="612" width="1" height="29" fill="#4fbf8f"/>
<rect x="964" y="612" width="1" height="31" fill="#4fbf8f"/>
<rect x="968" y="612" width="1" height="32" fill="#4fbf8f"/>
<rect x="972" y="612" width="1" height="32" fill="#4fbf8f"/>
<rect x="976" y="612" width="1" height="35" fill="#4fbf8f"/>
<rect x="980" y="612" width="1" height="31" fill="#4fbf8f"/>
<rect x="984" y="612" width="1" height="35" fill="#4fbf8f"/>
<rect x="988" y="612" width="1" height="27" fill="#4fbf8f"/>
<rect x="992" y="612" width="1" height="18" fill="#4fbf8f"/>
<rect x="996" y="612" width="1" height="13" fill="#4fbf8f"/>
<rect x="1000" y="612" width="1" height="2" fill="#4fbf8f"/>
<rect x="1004" y="612" width="1" height="2" fill="#4fbf8f"/>
<rect x="1008" y="612" width="1" height="15" fill="#4fbf8f"/>
<rect x="1012" y="612" width="1" height="23" fill="#4fbf8f"/>
<rect x="1016" y="612" width="1" height="28" fill="#4fbf8f"/>
<rect x="1020" y="612" width="1" height="30" fill="#4fbf8f"/>
<rect x="1024" y="612" width="1" height="24" fill="#4fbf8f"/>
<rect x="1028" y="612" width="1" height="29" fill="#4fbf8f"/>
<rect x="1032" y="612" width="1" height="23" fill="#4fbf8f"/>
<rect x="1036" y="612" width="1" height="26" fill="#4fbf8f"/>
<rect x="1040" y="612" width="1" height="24" fill="#4fbf8f"/>
<rect x="1044" y="612" width="1" height="20" fill="#4fbf8f"/>
<rect x="1048" y="612" width="1" height="15" fill="#4fbf8f"/>
<rect x="1052" y="612" width="1" height="13" fill="#4fbf8f"/>
<rect x="1056" y="612" width="1" height="4" fill="#4fbf8f"/>
<rect x="1060" y="605" width="1" height="8" fill="#ea4d5f"/>
<rect x="1064" y="598" width="1" height="15" fill="#ea4d5f"/>
<rect x="1068" y="586" width="1" height="27" fill="#ea4d5f"/>
<rect x="1072" y="579" width="1" height="34" fill="#ea4d5f"/>
<rect x="1076" y="572" width="1" height="41" fill="#ea4d5f"/>
<rect x="1080" y="575" width="1" height="38" fill="#ea4d5f"/>
<rect x="1084" y="571" width="1" height="42" fill="#ea4d5f"/>
<rect x="1088" y="572" width="1" height="41" fill="#ea4d5f"/>
<rect x="1092" y="574" width="1" height="39" fill="#ea4d5f"/>
<rect x="1096" y="577" width="1" height="36" fill="#ea4d5f"/>
<rect x="1100" y="579" width="1" height="34" fill="#ea4d5f"/>
<rect x="1104" y="590" width="1" height="23" fill="#ea4d5f"/>
<rect x="1108" y="604" width="1" height="9" fill="#ea4d5f"/>
<rect x="1112" y="611" width="1" height="2" fill="#ea4d5f"/>
<rect x="1116" y="612" width="1" height="8" fill="#4fbf8f"/>
<rect x="1120" y="612" width="1" height="13" fill="#4fbf8f"/>
<rect x="1124" y="612" width="1" height="23" fill="#4fbf8f"/>
<rect x="1128" y="612" width="1" height="23" fill="#4fbf8f"/>
<rect x="1132" y="612" width="1" height="15" fill="#4fbf8f"/>
<rect x="1136" y="612" width="1" height="15" fill="#4fbf8f"/>
<rect x="1140" y="612" width="1" height="18" fill="#4fbf8f"/>
<rect x="1144" y="612" width="1" height="12" fill="#4fbf8f"/>
<rect x="1148" y="612" width="1" height="13" fill="#4fbf8f"/>
<rect x="1152" y="612" width="1" height="4" fill="#4fbf8f"/>
<rect x="1156" y="607" width="1" height="6" fill="#ea4d5f"/>
<rect x="1160" y="605" width="1" height="8" fill="#ea4d5f"/>
<rect x="1164" y="604" width="1" height="9" fill="#ea4d5f"/>
<rect x="1168" y="609" width="1" height="4" fill="#ea4d5f"/>
<rect x="1172" y="612" width="1" height="5" fill="#4fbf8f"/>
<rect x="1176" y="612" width="1" height="10" fill="#4fbf8f"/>
<rect x="1180" y="612" width="1" height="34" fill="#4fbf8f"/>
<rect x="1184" y="612" width="1" height="52" fill="#4fbf8f"/>
<rect x="1188" y="612" width="1" height="43" fill="#4fbf8f"/>
<rect x="1192" y="612" width="1" height="42" fill="#4fbf8f"/>
<rect x="1196" y="612" width="1" height="38" fill="#4fbf8f"/>
<rect x="1200" y="612" width="1" height="29" fill="#4fbf8f"/>
<rect x="1204" y="612" width="1" height="29" fill="#4fbf8f"/>
<rect x="1208" y="612" width="1" height="28" fill="#4fbf8f"/>
<rect x="1212" y="612" width="1" height="24" fill="#4fbf8f"/>
<rect x="1216" y="612" width="1" height="30" fill="#4fbf8f"/>
<rect x="1220" y="612" width="1" height="38" fill="#4fbf8f"/>
<rect x="1224" y="612" width="1" height="29" fill="#4fbf8f"/>
<rect x="1228" y="612" width="1" height="26" fill="#4fbf8f"/>
<rect x="1232" y="612" width="1" height="19" fill="#4fbf8f"/>
<rect x="1236" y="612" width="1" height="19" fill="#4fbf8f"/>
<rect x="1240" y="612" width="1" height="17" fill="#4fbf8f"/>
<rect x="1244" y="612" width="1" height="14" fill="#4fbf8f"/>
<rect x="1248" y="612" width="1" height="9" fill="#4fbf8f"/>
<rect x="1252" y="606" width="1" height="7" fill="#ea4d5f"/>
<rect x="1256" y="600" width="1" height="13" fill="#ea4d5f"/>
<rect x="1260" y="600" width="1" height="13" fill="#ea4d5f"/>
<rect x="1264" y="595" width="1" height="18" fill="#ea4d5f"/>
<rect x="1268" y="595" width="1" height="18" fill="#ea4d5f"/>
<rect x="1272" y="591" width="1" height="22" fill="#ea4d5f"/>
<rect x="1276" y="610" width="1" height="3" fill="#ea4d5f"/>
<rect x="1280" y="612" width="1" height="9" fill="#4fbf8f"/>
<rect x="1284" y="612" width="1" height="21" fill="#4fbf8f"/>
<rect x="1288" y="612" width="1" height="32" fill="#4fbf8f"/>
<rect x="1292" y="612" width="1" height="26" fill="#4fbf8f"/>
<rect x="1296" y="612" width="1" height="11" fill="#4fbf8f"/>
</g>
<g shape-rendering="crispEdges">
<path d="M68 668v1M69 666v2M70 665v1M71 663v2M72 662v1M73 661v1M74 661v1M75 660v1M76 659v2M77 657v2M78 655v2M79 653v2M80 651v2M81 650v1M82 648v2M83 647v1M84 646v1M85 644v2M86 642v2M87 640v2M88 639v1M89 637v2M90 636v1M91 634v2M92 633v1M93 632v1M94 630v2M95 629v1M96 627v2M97 625v2M98 622v3M99 620v2M100 618v2M101 616v2M102 614v2M103 612v2M104 610v2M105 608v2M106 607v1M107 605v2M108 604v1M109 603v1M110 603v1M111 602v1M112 602v1M113 602v1M114 601v1M115 601v1M116 601v1M117 600v1M118 600v1M119 599v1M120 599v1M121 599v1M122 598v1M123 598v1M124 598v1M125 597v1M126 597v1M127 596v1M128 596v1M129 595v1M130 595v1M131 594v1M132 594v1M133 593v1M134 593v1M135 592v1M136 592v1M137 592v1M138 591v1M139 591v1M140 591v1M141 590v1M142 590v1M143 589v1M144 589v1M145 588v1M146 588v1M147 587v1M148 587v1M149 587v1M150 586v1M151 586v1M152 586v1M153 586v1M154 586v1M155 586v1M156 586v1M157 587v1M158 587v1M159 588v1M160 588v1M161 589v2M162 591v1M163 592v2M164 594v1M165 595v2M166 597v2M167 599v2M168 601v3M169 604v2M170 606v2M171 608v2M172 610v2M173 612v2M174 614v2M175 616v2M176 618v1M177 619v2M178 621v1M179 622v2M180 624v1M181 625v2M182 627v2M183 629v2M184 631v1M185 632v2M186 634v1M187 635v2M188 637v1M189 638v1M190 638v1M191 639v1M192 639v1M193 637v2M194 635v2M195 633v2M196 631v2M197 628v3M198 625v3M199 622v3M200 620v2M201 618v2M202 616v2M203 614v2M204 613v1M205 612v1M206 612v1M207 611v1M208 611v1M209 610v1M210 609v1M211 608v1M212 607v1M213 606v1M214 604v2M215 603v1M216 602v1M217 600v2M218 598v2M219 596v2M220 594v2M221 592v2M222 590v2M223 588v2M224 586v2M225 584v2M226 582v2M227 580v2M228 578v2M229 577v1M230 577v1M231 576v1M232 576v1M233 576v1M234 576v1M235 576v1M236 576v1M237 576v1M238 577v1M239 577v1M240 577v1M241 575v2M242 574v1M243 572v2M244 571v1M245 570v1M246 568v2M247 567v1M248 566v1M249 565v1M250 565v1M251 564v1M252 564v1M253 563v1M254 562v1M255 562v1M256 561v1M257 561v1M258 560v1M259 560v1M260 560v1M261 560v1M262 561v1M263 561v1M264 561v1M265 562v2M266 564v2M267 566v2M268 568v1M269 569v2M270 571v2M271 573v2M272 575v1M273 576v1M274 577v2M275 579v1M276 580v1M277 581v1M278 582v1M279 582v1M280 583v1M281 584v1M282 585v2M283 587v1M284 588v1M285 589v1M286 590v2M287 592v1M288 593v1M289 594v1M290 595v2M291 597v1M292 598v1M293 599v1M294 600v1M295 600v1M296 601v1M297 602v1M298 603v1M299 603v1M300 604v1M301 605v1M302 606v1M303 606v1M304 607v1M305 608v1M306 608v1M307 609v1M308 609v1M309 609v1M310 608v1M311 608v1M312 608v1M313 607v1M314 605v2M315 604v1M316 603v1M317 601v2M318 600v1M319 598v2M320 597v1M321 596v1M322 595v1M323 595v1M324 594v1M325 594v1M326 593v1M327 593v1M328 593v1M329 593v1M330 592v1M331 592v1M332 592v1M333 592v1M334 591v1M335 591v1M336 591v2M337 593v3M338 596v4M339 600v3M340 603v3M341 606v2M342 608v2M343 610v2M344 612v3M345 615v2M346 617v2M347 619v2M348 621v2M349 623v2M350 625v1M351 626v2M352 628v1M353 629v1M354 630v1M355 631v1M356 632v1M357 632v1M358 632v1M359 632v1M360 632v1M361 632v1M362 631v1M363 631v1M364 631v1M365 631v1M366 632v1M367 632v1M368 632v1M369 633v1M370 633v1M371 634v1M372 634v1M373 633v1M374 631v2M375 630v1M376 629v1M377 628v1M378 627v1M379 626v1M380 625v1M381 624v1M382 623v1M383 623v1M384 622v1M385 622v1M386 623v1M387 623v1M388 623v1M389 624v1M390 625v2M391 627v1M392 628v1M393 629v1M394 630v1M395 630v1M396 631v1M397 632v1M398 632v1M399 633v1M400 633v1M401 633v1M402 633v1M403 633v1M404 633v1M405 633v1M406 633v1M407 633v1M408 633v1M409 633v1M410 633v1M411 633v1M412 633v1M413 634v2M414 636v1M415 637v2M416 639v1M417 640v2M418 642v2M419 644v2M420 646v1M421 647v1M422 648v2M423 650v1M424 651v1M425 652v1M426 653v1M427 654v1M428 655v1M429 656v1M430 656v1M431 657v1M432 657v1M433 658v1M434 658v1M435 659v1M436 659v1M437 660v1M438 661v2M439 663v1M440 664v1M441 665v1M442 666v1M443 666v1M444 667v1M445 667v1M446 668v1M447 668v1M448 668v1M449 668v1M450 669v1M451 669v1M452 669v1M453 668v1M454 667v1M455 666v1M456 665v1M457 664v1M458 663v1M459 662v1M460 661v1M461 660v1M462 659v1M463 658v1M464 657v1M465 655v2M466 654v1M467 652v2M468 651v1M469 649v2M470 647v2M471 645v2M472 644v1M473 642v2M474 640v2M475 638v2M476 637v1M477 636v1M478 634v2M479 633v1M480 632v1M481 631v1M482 630v1M483 629v1M484 628v1M485 627v1M486 626v1M487 625v1M488 624v1M489 623v1M490 622v1M491 622v1M492 621v1M493 620v1M494 619v1M495 618v1M496 617v1M497 615v2M498 613v2M499 611v2M500 610v1M501 608v2M502 607v1M503 605v2M504 604v1M505 603v1M506 602v1M507 602v1M508 601v1M509 601v1M510 600v1M511 600v1M512 600v1M513 599v1M514 597v2M515 596v1M516 595v1M517 594v1M518 593v1M519 592v1M520 591v1M521 590v1M522 590v1M523 589v1M524 589v2M525 591v2M526 593v2M527 595v2M528 597v3M529 600v3M530 603v3M531 606v3M532 609v2M533 611v2M534 613v2M535 615v2M536 617v2M537 619v2M538 621v1M539 622v2M540 624v1M541 625v2M542 627v2M543 629v2M544 631v1M545 632v2M546 634v2M547 636v2M548 638v2M549 640v1M550 641v2M551 643v1M552 644v2M553 646v2M554 648v2M555 650v2M556 652v3M557 655v2M558 657v2M559 659v2M560 661v2M561 663v2M562 665v1M563 666v2M564 668v1M565 669v1M566 670v2M567 672v1M568 673v1M569 674v2M570 676v2M571 678v2M572 680v2M573 682v3M574 685v4M575 689v3M576 692v3M577 695v4M578 699v3M579 702v4M580 706v3M581 709v3M582 712v3M583 715v3M584 718v2M585 720v1M586 721v1M587 721v1M588 722v1M589 722v1M590 723v1M591 723v1M592 723v1M593 724v1M594 724v1M595 725v1M596 725v1M597 726v1M598 727v1M599 728v1M600 729v1M601 730v1M602 731v2M603 733v1M604 734v1M605 735v1M606 736v1M607 736v1M608 737v1M609 737v1M610 737v1M611 737v1M612 737v1M613 736v1M614 736v1M615 735v1M616 735v1M617 734v1M618 733v1M619 732v1M620 731v1M621 729v2M622 727v2M623 725v2M624 722v3M625 720v2M626 718v2M627 716v2M628 713v3M629 711v2M630 709v2M631 707v2M632 705v2M633 703v2M634 701v2M635 699v2M636 697v2M637 695v2M638 693v2M639 691v2M640 689v2M641 687v2M642 686v1M643 684v2M644 683v1M645 683v1M646 683v1M647 683v1M648 683v1M649 684v1M650 685v2M651 687v1M652 688v1M653 688v1M654 688v1M655 688v1M656 688v1M657 687v1M658 687v1M659 686v1M660 686v1M661 685v1M662 684v1M663 684v1M664 683v1M665 682v1M666 682v1M667 681v1M668 681v1M669 682v2M670 684v1M671 685v2M672 687v1M673 688v1M674 688v1M675 689v1M676 689v1M677 689v1M678 688v1M679 688v1M680 688v1M681 687v1M682 686v1M683 686v1M684 685v1M685 684v1M686 683v1M687 682v1M688 681v1M689 680v1M690 678v2M691 677v1M692 676v1M693 674v2M694 672v2M695 670v2M696 667v3M697 665v2M698 663v2M699 661v2M700 658v3M701 656v2M702 654v2M703 652v2M704 649v3M705 647v2M706 645v2M707 643v2M708 640v3M709 638v2M710 635v3M711 633v2M712 631v2M713 630v1M714 629v1M715 629v1M716 628v1M717 629v1M718 630v1M719 630v1M720 631v1M721 632v1M722 633v1M723 633v1M724 634v1M725 635v1M726 635v1M727 636v1M728 636v1M729 636v1M730 637v1M731 637v1M732 637v1M733 637v1M734 638v1M735 638v1M736 638v1M737 638v1M738 638v1M739 638v1M740 638v1M741 638v1M742 639v1M743 639v1M744 639v1M745 640v1M746 640v1M747 641v1M748 641v1M749 641v1M750 641v1M751 641v1M752 641v1M753 641v1M754 641v1M755 641v1M756 641v1M757 641v1M758 642v1M759 642v1M760 642v1M761 643v1M762 644v1M763 644v1M764 645v1M765 644v1M766 642v2M767 641v1M768 639v2M769 636v3M770 632v4M771 629v3M772 626v3M773 624v2M774 621v3M775 619v2M776 617v2M777 616v1M778 614v2M779 613v1M780 612v1M781 612v1M782 611v1M783 611v1M784 611v1M785 611v1M786 611v1M787 611v1M788 610v2M789 606v4M790 602v4M791 598v4M792 595v3M793 593v2M794 591v2M795 589v2M796 587v2M797 585v2M798 583v2M799 581v2M800 579v2M801 577v2M802 576v1M803 574v2M804 573v1M805 571v2M806 569v2M807 567v2M808 566v1M809 565v1M810 563v2M811 562v1M812 561v1M813 560v1M814 558v2M815 557v1M816 556v1M817 555v1M818 554v1M819 554v1M820 553v1M821 552v1M822 552v1M823 551v1M824 551v1M825 551v1M826 551v1M827 551v1M828 551v1M829 551v1M830 552v1M831 552v1M832 552v1M833 553v1M834 553v1M835 554v1M836 554v1M837 554v1M838 554v1M839 554v1M840 554v1M841 554v1M842 554v1M843 554v1M844 554v1M845 554v1M846 554v1M847 554v1M848 554v1M849 555v1M850 555v1M851 556v1M852 556v1M853 557v1M854 558v1M855 558v1M856 559v1M857 560v1M858 561v1M859 562v1M860 563v1M861 564v1M862 564v1M863 565v1M864 565v1M865 566v2M866 568v1M867 569v2M868 571v1M869 572v2M870 574v2M871 576v2M872 578v1M873 579v2M874 581v2M875 583v2M876 585v1M877 586v1M878 587v2M879 589v1M880 590v1M881 591v1M882 591v1M883 592v1M884 592v1M885 592v1M886 592v1M887 592v1M888 592v1M889 591v1M890 590v1M891 589v1M892 588v1M893 587v1M894 587v1M895 586v1M896 586v1M897 585v1M898 585v1M899 584v1M900 584v1M901 583v1M902 583v1M903 582v1M904 582v1M905 582v1M906 581v1M907 581v1M908 581v1M909 579v2M910 577v2M911 575v2M912 574v1M913 573v1M914 572v1M915 572v1M916 571v1M917 570v1M918 570v1M919 569v1M920 569v1M921 568v1M922 568v1M923 567v1M924 567v1M925 567v1M926 566v1M927 566v1M928 566v1M929 566v1M930 566v1M931 566v1M932 566v1M933 566v1M934 567v1M935 567v1M936 567v1M937 567v1M938 568v1M939 568v1M940 568v1M941 568v1M942 568v1M943 568v1M944 568v1M945 569v1M946 570v1M947 571v1M948 572v1M949 573v2M950 575v2M951 577v2M952 579v1M953 580v2M954 582v1M955 583v2M956 585v1M957 586v2M958 588v2M959 590v2M960 592v1M961 593v1M962 594v2M963 596v1M964 597v1M965 598v1M966 599v2M967 601v1M968 602v1M969 603v1M970 604v1M971 605v1M972 606v1M973 607v2M974 609v1M975 610v2M976 612v1M977 613v1M978 613v1M979 614v1M980 614v1M981 615v1M982 616v2M983 618v1M984 619v1M985 619v1M986 618v1M987 618v1M988 618v1M989 617v1M990 617v1M991 616v1M992 616v1M993 616v1M994 615v1M995 615v1M996 615v1M997 614v1M998 613v1M999 612v1M1000 611v1M1001 611v1M1002 611v1M1003 611v1M1004 611v1M1005 612v2M1006 614v2M1007 616v2M1008 618v2M1009 620v2M1010 622v2M1011 624v2M1012 626v1M1013 627v2M1014 629v1M1015 630v2M1016 632v1M1017 633v1M1018 634v1M1019 635v1M1020 636v1M1021 637v1M1022 637v1M1023 638v1M1024 638v1M1025 639v1M1026 640v1M1027 641v1M1028 642v1M1029 642v1M1030 643v1M1031 643v1M1032 643v1M1033 644v1M1034 645v1M1035 645v1M1036 646v1M1037 647v1M1038 647v1M1039 648v1M1040 648v1M1041 649v1M1042 649v1M1043 650v1M1044 650v1M1045 650v1M1046 649v1M1047 649v1M1048 649v1M1049 649v1M1050 648v1M1051 648v1M1052 648v1M1053 647v1M1054 646v1M1055 645v1M1056 644v1M1057 642v2M1058 640v2M1059 638v2M1060 636v2M1061 634v2M1062 632v2M1063 630v2M1064 628v2M1065 626v2M1066 624v2M1067 622v2M1068 620v2M1069 618v2M1070 616v2M1071 614v2M1072 612v2M1073 611v1M1074 609v2M1075 608v1M1076 607v1M1077 606v1M1078 605v1M1079 605v1M1080 604v1M1081 602v2M1082 601v1M1083 599v2M1084 598v1M1085 597v1M1086 595v2M1087 594v1M1088 593v1M1089 592v1M1090 591v1M1091 591v1M1092 590v1M1093 589v1M1094 588v1M1095 588v1M1096 587v1M1097 586v1M1098 586v1M1099 585v1M1100 585v1M1101 585v1M1102 586v1M1103 586v1M1104 586v1M1105 587v1M1106 588v2M1107 590v1M1108 591v1M1109 592v2M1110 594v1M1111 595v2M1112 597v1M1113 598v1M1114 599v1M1115 600v1M1116 601v1M1117 602v2M1118 604v2M1119 606v2M1120 608v1M1121 609v2M1122 611v2M1123 613v2M1124 615v1M1125 615v1M1126 616v1M1127 616v1M1128 616v1M1129 616v1M1130 615v1M1131 615v1M1132 615v1M1133 616v1M1134 616v1M1135 617v1M1136 617v1M1137 617v1M1138 618v1M1139 618v1M1140 618v1M1141 618v1M1142 619v1M1143 619v1M1144 619v1M1145 619v1M1146 619v1M1147 619v1M1148 619v1M1149 618v1M1150 617v1M1151 616v1M1152 615v1M1153 614v1M1154 613v1M1155 613v1M1156 612v1M1157 612v1M1158 611v1M1159 611v1M1160 611v1M1161 611v1M1162 610v1M1163 610v1M1164 610v1M1165 611v1M1166 611v1M1167 612v1M1168 612v1M1169 613v1M1170 614v1M1171 614v1M1172 615v1M1173 616v2M1174 618v1M1175 619v2M1176 621v2M1177 623v4M1178 627v4M1179 631v4M1180 635v4M1181 639v4M1182 643v3M1183 646v4M1184 650v2M1185 652v1M1186 652v1M1187 653v1M1188 653v1M1189 654v1M1190 655v1M1191 655v1M1192 656v1M1193 657v1M1194 657v1M1195 658v1M1196 658v1M1197 658v1M1198 658v1M1199 658v1M1200 658v1M1201 659v1M1202 660v1M1203 660v1M1204 661v1M1205 662v1M1206 662v1M1207 663v1M1208 663v1M1209 664v1M1210 664v1M1211 665v1M1212 665v1M1213 666v2M1214 668v2M1215 670v2M1216 672v1M1217 673v2M1218 675v2M1219 677v2M1220 679v1M1221 679v1M1222 678v1M1223 678v1M1224 678v1M1225 678v1M1226 679v1M1227 679v1M1228 679v1M1229 679v1M1230 678v1M1231 678v1M1232 678v1M1233 679v1M1234 680v1M1235 680v1M1236 681v1M1237 681v1M1238 682v1M1239 682v1M1240 682v1M1241 682v1M1242 682v1M1243 682v1M1244 682v1M1245 681v1M1246 681v1M1247 680v1M1248 680v1M1249 678v2M1250 676v2M1251 674v2M1252 673v1M1253 672v1M1254 670v2M1255 669v1M1256 668v1M1257 667v1M1258 667v1M1259 666v1M1260 666v1M1261 665v1M1262 664v1M1263 663v1M1264 662v1M1265 661v1M1266 660v1M1267 660v1M1268 659v1M1269 658v1M1270 657v1M1271 657v1M1272 656v2M1273 658v2M1274 660v2M1275 662v2M1276 664v2M1277 666v2M1278 668v2M1279 670v2M1280 672v2M1281 674v2M1282 676v2M1283 678v2M1284 680v2M1285 682v2M1286 684v2M1287 686v2M1288 688v2M1289 689v1M1290 688v1M1291 688v1M1292 688v1M1293 686v2M1294 685v1M1295 683v2M1296 682v1" fill="none" stroke="#eeeeee" stroke-width="1" transform="translate(.5,0)" />
<path d="M68 689v1M69 688v1M70 687v1M71 686v1M72 685v1M73 684v1M74 683v1M75 682v1M76 681v1M77 680v1M78 678v2M79 677v1M80 676v1M81 674v2M82 673v1M83 671v2M84 670v1M85 668v2M86 667v1M87 665v2M88 664v1M89 662v2M90 661v1M91 659v2M92 658v1M93 656v2M94 655v1M95 653v2M96 652v1M97 650v2M98 649v1M99 647v2M100 646v1M101 644v2M102 642v2M103 640v2M104 639v1M105 637v2M106 635v2M107 633v2M108 632v1M109 630v2M110 629v1M111 627v2M112 626v1M113 625v1M114 623v2M115 622v1M116 621v1M117 620v1M118 618v2M119 617v1M120 616v1M121 615v1M122 614v1M123 613v1M124 612v1M125 611v1M126 610v1M127 610v1M128 609v1M129 608v1M130 607v1M131 607v1M132 606v1M133 605v1M134 604v1M135 604v1M136 603v1M137 602v1M138 602v1M139 601v1M140 601v1M141 600v1M142 599v1M143 599v1M144 598v1M145 597v1M146 597v1M147 596v1M148 596v1M149 595v1M150 595v1M151 594v1M152 594v1M153 593v1M154 593v1M155 592v1M156 592v1M157 592v1M158 591v1M159 591v1M160 591v1M161 591v1M162 591v1M163 591v1M164 591v1M165 592v1M166 592v1M167 593v1M168 593v1M169 594v1M170 595v1M171 595v1M172 596v1M173 597v1M174 598v2M175 600v1M176 601v1M177 602v1M178 603v2M179 605v1M180 606v1M181 607v1M182 608v2M183 610v1M184 611v1M185 612v1M186 613v2M187 615v1M188 616v1M189 617v1M190 618v1M191 618v1M192 619v1M193 620v1M194 621v1M195 621v1M196 622v1M197 622v1M198 622v1M199 622v1M200 622v1M201 621v1M202 621v1M203 620v1M204 620v1M205 619v1M206 619v1M207 618v1M208 618v1M209 617v1M210 616v1M211 616v1M212 615v1M213 614v1M214 613v1M215 613v1M216 612v1M217 611v1M218 610v1M219 609v1M220 608v1M221 607v1M222 605v2M223 604v1M224 603v1M225 602v1M226 600v2M227 599v1M228 598v1M229 597v1M230 595v2M231 594v1M232 593v1M233 592v1M234 591v1M235 590v1M236 589v1M237 588v1M238 587v1M239 587v1M240 586v1M241 585v1M242 584v1M243 583v1M244 582v1M245 581v1M246 580v1M247 580v1M248 579v1M249 578v1M250 577v1M251 576v1M252 575v1M253 574v1M254 573v1M255 573v1M256 572v1M257 571v1M258 571v1M259 570v1M260 570v1M261 570v1M262 569v1M263 569v1M264 569v1M265 569v1M266 569v1M267 569v1M268 569v1M269 569v1M270 570v1M271 570v1M272 570v1M273 571v1M274 571v1M275 572v1M276 572v1M277 573v1M278 573v1M279 574v1M280 574v1M281 575v1M282 576v1M283 576v1M284 577v1M285 578v1M286 579v1M287 579v1M288 580v1M289 581v1M290 582v1M291 583v1M292 584v1M293 585v1M294 586v1M295 587v1M296 588v1M297 589v1M298 590v1M299 590v1M300 591v1M301 592v1M302 593v1M303 593v1M304 594v1M305 595v1M306 595v1M307 596v1M308 596v1M309 597v1M310 597v1M311 598v1M312 598v1M313 598v1M314 599v1M315 599v1M316 599v1M317 599v1M318 599v1M319 599v1M320 599v1M321 599v1M322 598v1M323 598v1M324 598v1M325 598v1M326 597v1M327 597v1M328 597v1M329 597v1M330 596v1M331 596v1M332 596v1M333 596v1M334 595v1M335 595v1M336 595v1M337 596v1M338 597v1M339 597v1M340 598v1M341 599v1M342 600v2M343 602v1M344 603v1M345 604v1M346 605v1M347 606v1M348 607v1M349 608v1M350 609v2M351 611v1M352 612v1M353 613v1M354 614v1M355 615v1M356 616v1M357 617v1M358 618v1M359 618v1M360 619v1M361 620v1M362 620v1M363 621v1M364 621v1M365 622v1M366 622v1M367 623v1M368 623v1M369 624v1M370 624v1M371 625v1M372 625v1M373 625v1M374 626v1M375 626v1M376 626v1M377 626v1M378 626v1M379 626v1M380 626v1M381 626v1M382 625v1M383 625v1M384 625v1M385 625v1M386 624v1M387 624v1M388 624v1M389 625v1M390 625v1M391 626v1M392 626v1M393 626v1M394 627v1M395 627v1M396 627v1M397 627v1M398 628v1M399 628v1M400 628v1M401 628v1M402 629v1M403 629v1M404 629v1M405 629v1M406 630v1M407 630v1M408 630v1M409 630v1M410 630v1M411 630v1M412 630v1M413 631v1M414 631v1M415 632v1M416 632v1M417 633v1M418 634v1M419 634v1M420 635v1M421 636v1M422 637v1M423 637v1M424 638v1M425 639v1M426 640v1M427 640v1M428 641v1M429 642v1M430 643v1M431 643v1M432 644v1M433 645v1M434 646v1M435 646v1M436 647v1M437 648v1M438 649v1M439 650v1M440 651v1M441 652v1M442 653v1M443 653v1M444 654v1M445 655v1M446 655v1M447 656v1M448 656v1M449 657v1M450 658v1M451 658v1M452 659v1M453 660v1M454 660v1M455 661v1M456 661v1M457 661v1M458 661v1M459 661v1M460 661v1M461 661v1M462 660v1M463 660v1M464 660v1M465 659v1M466 659v1M467 658v1M468 658v1M469 657v1M470 657v1M471 656v1M472 656v1M473 655v1M474 654v1M475 653v1M476 652v1M477 651v1M478 650v1M479 650v1M480 649v1M481 648v1M482 647v1M483 646v1M484 645v1M485 644v1M486 642v2M487 641v1M488 640v1M489 639v1M490 638v1M491 638v1M492 637v1M493 636v1M494 634v2M495 633v1M496 632v1M497 631v1M498 630v1M499 629v1M500 628v1M501 627v1M502 626v1M503 625v1M504 624v1M505 623v1M506 622v1M507 621v1M508 620v1M509 619v1M510 618v1M511 617v1M512 616v1M513 615v1M514 614v1M515 613v1M516 612v1M517 611v1M518 609v2M519 608v1M520 607v1M521 606v1M522 605v1M523 605v1M524 604v1M525 604v1M526 603v1M527 603v1M528 603v1M529 604v1M530 604v1M531 605v1M532 605v1M533 606v1M534 606v1M535 607v1M536 607v1M537 608v1M538 609v1M539 609v1M540 610v1M541 611v1M542 612v1M543 613v1M544 614v1M545 615v1M546 616v2M547 618v1M548 619v1M549 620v2M550 622v1M551 623v2M552 625v1M553 626v2M554 628v2M555 630v2M556 632v1M557 633v2M558 635v2M559 637v2M560 639v1M561 640v2M562 642v2M563 644v2M564 646v1M565 647v2M566 649v2M567 651v2M568 653v1M569 654v2M570 656v2M571 658v2M572 660v1M573 661v2M574 663v2M575 665v2M576 667v2M577 669v2M578 671v2M579 673v2M580 675v2M581 677v2M582 679v2M583 681v2M584 683v2M585 685v2M586 687v2M587 689v2M588 691v2M589 693v2M590 695v1M591 696v2M592 698v1M593 699v1M594 700v2M595 702v1M596 703v1M597 704v2M598 706v1M599 707v2M600 709v1M601 710v1M602 711v2M603 713v1M604 714v1M605 715v1M606 716v1M607 717v1M608 718v1M609 719v1M610 720v1M611 721v1M612 722v1M613 723v1M614 723v1M615 724v1M616 724v1M617 724v1M618 725v1M619 725v1M620 725v1M621 725v1M622 725v1M623 725v1M624 725v1M625 724v1M626 724v1M627 723v1M628 723v1M629 722v1M630 721v1M631 721v1M632 720v1M633 719v1M634 718v1M635 717v1M636 716v1M637 715v1M638 713v2M639 712v1M640 711v1M641 710v1M642 708v2M643 707v1M644 706v1M645 705v1M646 703v2M647 702v1M648 701v1M649 700v1M650 699v1M651 699v1M652 698v1M653 697v1M654 697v1M655 696v1M656 696v1M657 695v1M658 695v1M659 694v1M660 694v1M661 693v1M662 692v1M663 692v1M664 691v1M665 690v1M666 690v1M667 689v1M668 689v1M669 689v1M670 689v1M671 689v1M672 689v1M673 689v1M674 689v1M675 689v1M676 689v1M677 689v1M678 689v1M679 689v1M680 689v1M681 689v1M682 688v1M683 688v1M684 688v1M685 688v1M686 687v1M687 687v1M688 687v1M689 686v1M690 685v1M691 685v1M692 684v1M693 683v1M694 682v1M695 682v1M696 681v1M697 680v1M698 679v1M699 678v1M700 677v1M701 675v2M702 674v1M703 672v2M704 671v1M705 669v2M706 668v1M707 666v2M708 665v1M709 663v2M710 662v1M711 660v2M712 659v1M713 657v2M714 656v1M715 654v2M716 653v1M717 652v1M718 650v2M719 649v1M720 648v1M721 647v1M722 646v1M723 646v1M724 645v1M725 644v1M726 644v1M727 643v1M728 643v1M729 642v1M730 642v1M731 641v1M732 641v1M733 641v1M734 641v1M735 641v1M736 641v1M737 641v1M738 640v1M739 640v1M740 640v1M741 640v1M742 640v1M743 640v1M744 640v1M745 640v1M746 641v1M747 641v1M748 641v1M749 641v1M750 641v1M751 641v1M752 641v1M753 641v1M754 641v1M755 641v1M756 641v1M757 641v1M758 641v1M759 641v1M760 641v1M761 641v1M762 642v1M763 642v1M764 642v1M765 642v1M766 641v1M767 641v1M768 641v1M769 640v1M770 639v1M771 639v1M772 638v1M773 637v1M774 636v1M775 635v1M776 634v1M777 633v1M778 632v1M779 631v1M780 630v1M781 629v1M782 628v1M783 627v1M784 626v1M785 625v1M786 625v1M787 624v1M788 624v1M789 622v2M790 621v1M791 619v2M792 618v1M793 616v2M794 615v1M795 613v2M796 612v1M797 610v2M798 609v1M799 607v2M800 606v1M801 604v2M802 602v2M803 600v2M804 598v2M805 596v2M806 594v2M807 592v2M808 591v1M809 589v2M810 587v2M811 585v2M812 584v1M813 582v2M814 581v1M815 579v2M816 578v1M817 577v1M818 575v2M819 574v1M820 573v1M821 572v1M822 570v2M823 569v1M824 568v1M825 567v1M826 566v1M827 565v1M828 564v1M829 563v1M830 563v1M831 562v1M832 562v1M833 562v1M834 561v1M835 561v1M836 561v1M837 560v1M838 560v1M839 559v1M840 559v1M841 558v1M842 558v1M843 557v1M844 557v1M845 557v1M846 556v1M847 556v1M848 556v1M849 556v1M850 557v1M851 557v1M852 557v1M853 557v1M854 557v1M855 557v1M856 557v1M857 557v1M858 558v1M859 558v1M860 558v1M861 558v1M862 559v1M863 559v1M864 559v1M865 560v1M866 560v1M867 561v1M868 561v1M869 562v1M870 563v1M871 564v1M872 565v1M873 566v1M874 567v1M875 568v1M876 569v1M877 570v1M878 571v1M879 572v1M880 573v1M881 574v1M882 575v1M883 576v1M884 577v1M885 578v1M886 579v1M887 579v1M888 580v1M889 580v1M890 581v1M891 581v1M892 581v1M893 581v1M894 582v1M895 582v1M896 582v1M897 582v1M898 582v1M899 582v1M900 582v1M901 582v1M902 582v1M903 582v1M904 582v1M905 582v1M906 581v1M907 581v1M908 581v1M909 580v1M910 580v1M911 579v1M912 579v1M913 579v1M914 578v1M915 578v1M916 578v1M917 577v1M918 577v1M919 576v1M920 576v1M921 575v1M922 575v1M923 574v1M924 574v1M925 574v1M926 573v1M927 573v1M928 573v1M929 572v1M930 572v1M931 571v1M932 571v1M933 571v1M934 570v1M935 570v1M936 570v1M937 570v1M938 569v1M939 569v1M940 569v1M941 569v1M942 570v1M943 570v1M944 570v1M945 570v1M946 570v1M947 570v1M948 570v1M949 571v1M950 571v1M951 572v1M952 572v1M953 573v1M954 574v1M955 574v1M956 575v1M957 576v1M958 577v1M959 578v1M960 579v1M961 580v1M962 581v1M963 582v1M964 583v1M965 584v1M966 585v1M967 586v1M968 587v1M969 588v1M970 589v1M971 590v1M972 591v1M973 592v1M974 593v1M975 594v1M976 595v1M977 596v1M978 597v1M979 598v1M980 599v1M981 600v1M982 601v1M983 602v1M984 603v1M985 604v1M986 605v1M987 605v1M988 606v1M989 607v1M990 607v1M991 608v1M992 608v1M993 608v1M994 609v1M995 609v1M996 609v1M997 609v1M998 609v1M999 609v1M1000 609v1M1001 609v1M1002 610v1M1003 610v1M1004 610v1M1005 611v1M1006 611v1M1007 612v1M1008 612v1M1009 613v1M1010 614v1M1011 614v1M1012 615v1M1013 616v1M1014 617v1M1015 617v1M1016 618v1M1017 619v1M1018 620v1M1019 620v1M1020 621v1M1021 622v1M1022 623v1M1023 624v1M1024 625v1M1025 626v1M1026 627v1M1027 627v1M1028 628v1M1029 629v1M1030 630v1M1031 631v1M1032 632v1M1033 633v1M1034 634v1M1035 634v1M1036 635v1M1037 636v1M1038 636v1M1039 637v1M1040 637v1M1041 638v1M1042 639v1M1043 639v1M1044 640v1M1045 640v1M1046 641v1M1047 641v1M1048 641v1M1049 642v1M1050 642v1M1051 643v1M1052 643v1M1053 643v1M1054 643v1M1055 643v1M1056 643v1M1057 643v1M1058 642v1M1059 642v1M1060 642v1M1061 641v1M1062 641v1M1063 640v1M1064 640v1M1065 639v1M1066 638v1M1067 637v1M1068 636v1M1069 635v1M1070 633v2M1071 632v1M1072 631v1M1073 630v1M1074 628v2M1075 627v1M1076 626v1M1077 625v1M1078 623v2M1079 622v1M1080 621v1M1081 620v1M1082 618v2M1083 617v1M1084 615v2M1085 613v2M1086 611v2M1087 609v2M1088 607v2M1089 606v1M1090 605v1M1091 604v1M1092 603v1M1093 602v1M1094 601v1M1095 600v1M1096 599v1M1097 598v1M1098 598v1M1099 597v1M1100 597v1M1101 597v1M1102 596v1M1103 596v1M1104 596v1M1105 596v1M1106 596v1M1107 596v1M1108 596v1M1109 596v1M1110 596v1M1111 596v1M1112 596v1M1113 596v1M1114 597v1M1115 597v1M1116 597v1M1117 598v1M1118 599v1M1119 599v1M1120 600v1M1121 601v1M1122 602v1M1123 602v1M1124 603v1M1125 604v1M1126 604v1M1127 605v1M1128 605v1M1129 606v1M1130 606v1M1131 607v1M1132 607v1M1133 608v1M1134 608v1M1135 609v1M1136 609v1M1137 610v1M1138 610v1M1139 611v1M1140 611v1M1141 612v1M1142 612v1M1143 613v1M1144 613v1M1145 613v1M1146 614v1M1147 614v1M1148 614v1M1149 614v1M1150 614v1M1151 614v1M1152 614v1M1153 613v1M1154 613v1M1155 612v1M1156 612v1M1157 612v1M1158 611v1M1159 611v1M1160 611v1M1161 611v1M1162 611v1M1163 611v1M1164 611v1M1165 611v1M1166 611v1M1167 611v1M1168 611v1M1169 611v1M1170 612v1M1171 612v1M1172 612v1M1173 613v1M1174 613v1M1175 614v1M1176 614v1M1177 615v1M1178 616v2M1179 618v1M1180 619v1M1181 620v2M1182 622v2M1183 624v2M1184 626v1M1185 627v1M1186 628v2M1187 630v1M1188 631v1M1189 632v1M1190 633v2M1191 635v1M1192 636v1M1193 637v1M1194 638v2M1195 640v1M1196 641v1M1197 642v1M1198 643v1M1199 644v1M1200 645v1M1201 646v1M1202 647v1M1203 647v1M1204 648v1M1205 649v1M1206 650v1M1207 650v1M1208 651v1M1209 652v1M1210 653v1M1211 653v1M1212 654v1M1213 655v1M1214 656v1M1215 656v1M1216 657v1M1217 658v1M1218 659v1M1219 660v1M1220 661v1M1221 662v1M1222 663v1M1223 664v1M1224 665v1M1225 666v1M1226 666v1M1227 667v1M1228 667v1M1229 668v1M1230 668v1M1231 669v1M1232 669v1M1233 670v1M1234 670v1M1235 671v1M1236 671v1M1237 672v1M1238 672v1M1239 673v1M1240 673v1M1241 674v1M1242 674v1M1243 675v1M1244 675v1M1245 676v1M1246 676v1M1247 677v1M1248 677v1M1249 676v1M1250 676v1M1251 675v1M1252 675v1M1253 675v1M1254 674v1M1255 674v1M1256 674v1M1257 673v1M1258 673v1M1259 672v1M1260 672v1M1261 671v1M1262 671v1M1263 670v1M1264 670v1M1265 669v1M1266 669v1M1267 668v1M1268 668v1M1269 667v1M1270 667v1M1271 666v1M1272 666v1M1273 666v1M1274 666v1M1275 666v1M1276 666v1M1277 666v1M1278 667v1M1279 667v1M1280 667v1M1281 668v1M1282 669v1M1283 669v1M1284 670v1M1285 671v1M1286 672v1M1287 672v1M1288 673v1M1289 674v1M1290 675v1M1291 675v1M1292 676v1M1293 676v1M1294 677v1M1295 677v1M1296 677v1" fill="none" stroke="#e6e600" stroke-width="1" transform="translate(.5,0)" />
</g>
<text x="67" y="8.1" fill="#f0f0f0" font-size="12" style="font-family:'Liberation Sans','Noto Sans CJK SC',sans-serif">美债</text>
<text x="91.3" y="8.3" fill="#f0f0f0" textLength="13.4" lengthAdjust="spacingAndGlyphs" >10</text>
<text x="105" y="8.1" fill="#f0f0f0" font-size="12" style="font-family:'Liberation Sans','Noto Sans CJK SC',sans-serif">年收益率</text>
<text x="153" y="8.1" fill="#ff6a10" font-size="12" style="font-family:'Liberation Sans','Noto Sans CJK SC',sans-serif">【</text>
<text x="165.3" y="8.3" fill="#ff6a10" textLength="20.4" lengthAdjust="spacingAndGlyphs" >240</text>
<text x="186" y="8.1" fill="#ff6a10" font-size="12" style="font-family:'Liberation Sans','Noto Sans CJK SC',sans-serif">分】</text>
<g stroke="#ff7a00" stroke-width="1" fill="none"><circle cx="215.5" cy="5.5" r="4.1"/><path d="M211.5 5.5H219.5M215.5 1.5V9.5"/></g>
<g shape-rendering="crispEdges"><rect x="228" y="-3" width="12" height="12" fill="#8a8a80"/><rect x="227" y="-4" width="12" height="12" fill="#00009c"/><rect x="228" y="-4" width="10" height="11" fill="#ffffff"/></g>
<polyline points="228,5.6 231.5,1.4 234.5,4.6 236.5,2.3 238,2.3" fill="none" stroke="#0000f0" stroke-width="1"/>
<polyline points="228,2.8 230.8,-0.5" fill="none" stroke="#ff0000" stroke-width="1"/>
<polyline points="232.5,-0.5 234.5,1.6 236.2,-0.5" fill="none" stroke="#ff0000" stroke-width="1"/>
<text x="243.0" y="8.3" fill="#f0f0f0" textLength="60.3" lengthAdjust="spacingAndGlyphs" >BOLL(20,2)</text>
<text x="308.3" y="8.3" fill="#f0f0f0" textLength="57.6" lengthAdjust="spacingAndGlyphs" >MID:4.009</text>
<text x="375.8" y="8.3" fill="#dcdc14" textLength="69.5" lengthAdjust="spacingAndGlyphs" >UPPER:4.071</text>
<text x="455.9" y="8.3" fill="#e628e6" textLength="75.7" lengthAdjust="spacingAndGlyphs" >LOWER:3.946</text>
<text x="67.6" y="543.0" fill="#f0f0f0" textLength="84.9" lengthAdjust="spacingAndGlyphs" >MACD(26,12,9)</text>
<text x="157.7" y="543.0" fill="#f0f0f0" textLength="62.3" lengthAdjust="spacingAndGlyphs" >DIFF:-0.027</text>
<text x="230.2" y="543.0" fill="#dcdc14" textLength="61.0" lengthAdjust="spacingAndGlyphs" >DEA:-0.025</text>
<text x="300.7" y="543.0" fill="#e628e6" textLength="74.8" lengthAdjust="spacingAndGlyphs" >MACD:-0.004</text>
<text x="31.2" y="19.3" fill="#f0f0f0" textLength="30.7" lengthAdjust="spacingAndGlyphs" >4.402</text>
<text x="1324.7" y="19.3" fill="#f0f0f0" textLength="30.0" lengthAdjust="spacingAndGlyphs" >4.402</text>
<text x="31.2" y="76.3" fill="#f0f0f0" textLength="30.7" lengthAdjust="spacingAndGlyphs" >4.347</text>
<text x="1324.7" y="76.3" fill="#f0f0f0" textLength="30.0" lengthAdjust="spacingAndGlyphs" >4.347</text>
<text x="31.2" y="133.3" fill="#f0f0f0" textLength="30.7" lengthAdjust="spacingAndGlyphs" >4.291</text>
<text x="1324.7" y="133.3" fill="#f0f0f0" textLength="30.0" lengthAdjust="spacingAndGlyphs" >4.291</text>
<text x="31.2" y="190.3" fill="#f0f0f0" textLength="30.7" lengthAdjust="spacingAndGlyphs" >4.235</text>
<text x="1324.7" y="190.3" fill="#f0f0f0" textLength="30.0" lengthAdjust="spacingAndGlyphs" >4.235</text>
<text x="31.2" y="247.3" fill="#f0f0f0" textLength="30.7" lengthAdjust="spacingAndGlyphs" >4.180</text>
<text x="1324.7" y="247.3" fill="#f0f0f0" textLength="30.0" lengthAdjust="spacingAndGlyphs" >4.180</text>
<text x="31.2" y="304.3" fill="#f0f0f0" textLength="30.7" lengthAdjust="spacingAndGlyphs" >4.124</text>
<text x="1324.7" y="304.3" fill="#f0f0f0" textLength="30.0" lengthAdjust="spacingAndGlyphs" >4.124</text>
<text x="31.2" y="361.3" fill="#f0f0f0" textLength="30.7" lengthAdjust="spacingAndGlyphs" >4.069</text>
<text x="1324.7" y="361.3" fill="#f0f0f0" textLength="30.0" lengthAdjust="spacingAndGlyphs" >4.069</text>
<text x="31.2" y="418.3" fill="#f0f0f0" textLength="30.7" lengthAdjust="spacingAndGlyphs" >4.013</text>
<text x="1324.7" y="418.3" fill="#f0f0f0" textLength="30.0" lengthAdjust="spacingAndGlyphs" >4.013</text>
<text x="31.2" y="475.3" fill="#f0f0f0" textLength="30.7" lengthAdjust="spacingAndGlyphs" >3.958</text>
<text x="1324.7" y="475.3" fill="#f0f0f0" textLength="30.0" lengthAdjust="spacingAndGlyphs" >3.958</text>
<text x="31.2" y="554.3" fill="#f0f0f0" textLength="30.7" lengthAdjust="spacingAndGlyphs" >0.023</text>
<text x="1324.7" y="554.3" fill="#f0f0f0" textLength="30.0" lengthAdjust="spacingAndGlyphs" >0.023</text>
<text x="31.2" y="577.3" fill="#f0f0f0" textLength="30.7" lengthAdjust="spacingAndGlyphs" >0.014</text>
<text x="1324.7" y="577.3" fill="#f0f0f0" textLength="30.0" lengthAdjust="spacingAndGlyphs" >0.014</text>
<text x="31.2" y="601.3" fill="#f0f0f0" textLength="30.7" lengthAdjust="spacingAndGlyphs" >0.006</text>
<text x="1324.7" y="601.3" fill="#f0f0f0" textLength="30.0" lengthAdjust="spacingAndGlyphs" >0.006</text>
<text x="26.9" y="624.3" fill="#f0f0f0" textLength="35.0" lengthAdjust="spacingAndGlyphs" >-0.003</text>
<text x="1324.7" y="624.3" fill="#f0f0f0" textLength="33.8" lengthAdjust="spacingAndGlyphs" >-0.003</text>
<text x="26.9" y="648.3" fill="#f0f0f0" textLength="35.0" lengthAdjust="spacingAndGlyphs" >-0.012</text>
<text x="1324.7" y="648.3" fill="#f0f0f0" textLength="33.8" lengthAdjust="spacingAndGlyphs" >-0.012</text>
<text x="26.9" y="671.3" fill="#f0f0f0" textLength="35.0" lengthAdjust="spacingAndGlyphs" >-0.021</text>
<text x="1324.7" y="671.3" fill="#f0f0f0" textLength="33.8" lengthAdjust="spacingAndGlyphs" >-0.021</text>
<text x="26.9" y="695.3" fill="#f0f0f0" textLength="35.0" lengthAdjust="spacingAndGlyphs" >-0.030</text>
<text x="1324.7" y="695.3" fill="#f0f0f0" textLength="33.8" lengthAdjust="spacingAndGlyphs" >-0.030</text>
<text x="26.9" y="718.3" fill="#f0f0f0" textLength="35.0" lengthAdjust="spacingAndGlyphs" >-0.039</text>
<text x="1324.7" y="718.3" fill="#f0f0f0" textLength="33.8" lengthAdjust="spacingAndGlyphs" >-0.039</text>
<rect x="1322" y="75" width="67" height="16" fill="#000"/>
<text x="1323.3" y="87.1" fill="#f2a134" textLength="30.7" lengthAdjust="spacingAndGlyphs" >4.345</text>
<rect x="1321.5" y="432.5" width="68" height="17" fill="#000" stroke="#f2a134" stroke-width="1"/>
<text x="1324.8" y="445.0" fill="#f2a134" textLength="30.4" lengthAdjust="spacingAndGlyphs" >3.996</text>
<rect x="1381" y="424" width="9" height="8" fill="#000"/>
<path d="M1385.2 423.6L1389.2 427.8H1381.2ZM1385.2 428.2L1389.2 432.2H1381.2Z" fill="#f2a134"/>
<text x="253.4" y="63.8" fill="#ea4d5f" textLength="30.6" lengthAdjust="spacingAndGlyphs" font-weight="bold" >4.352</text>
<text x="921.6" y="218.0" fill="#ea4d5f" textLength="30.4" lengthAdjust="spacingAndGlyphs" font-weight="bold" >4.202</text>
<text x="777.6" y="454.4" fill="#4fbf8f" textLength="29.6" lengthAdjust="spacingAndGlyphs" font-weight="bold" >3.987</text>
<text x="1259.6" y="507.0" fill="#4fbf8f" textLength="30.0" lengthAdjust="spacingAndGlyphs" font-weight="bold" >3.935</text>
<path d="M246 67.5H251M248.5 65V70" stroke="#f0f0f0" stroke-width="1" shape-rendering="crispEdges"/>
<path d="M914 221.5H919M916.5 219V224" stroke="#f0f0f0" stroke-width="1" shape-rendering="crispEdges"/>
<path d="M770 442.5H775M772.5 440V445" stroke="#f0f0f0" stroke-width="1" shape-rendering="crispEdges"/>
<path d="M1290 495.5H1295M1292.5 493V498" stroke="#f0f0f0" stroke-width="1" shape-rendering="crispEdges"/>
<text x="5.5" y="753.0" fill="#ff6600" textLength="21.0" lengthAdjust="spacingAndGlyphs" font-weight="bold" >240</text>
<text x="26.2" y="753.4" fill="#ff6600" font-size="13" font-weight="bold" style="font-family:'Liberation Sans','Noto Sans CJK SC',sans-serif">分</text>
<path d="M43.8 753L48.2 745L52.6 753Z" fill="#ff6600"/>
<text x="82.1" y="751.0" fill="#f4f4f4" textLength="30.7" lengthAdjust="spacingAndGlyphs" font-weight="bold" >08/08</text>
<text x="234.4" y="751.0" fill="#f4f4f4" textLength="30.7" lengthAdjust="spacingAndGlyphs" font-weight="bold" >08/18</text>
<text x="558.1" y="751.0" fill="#f4f4f4" textLength="30.7" lengthAdjust="spacingAndGlyphs" font-weight="bold" >09/05</text>
<text x="710.4" y="751.0" fill="#f4f4f4" textLength="30.7" lengthAdjust="spacingAndGlyphs" font-weight="bold" >09/15</text>
<text x="870.4" y="751.0" fill="#f4f4f4" textLength="30.7" lengthAdjust="spacingAndGlyphs" font-weight="bold" >09/24</text>
<text x="1038.9" y="751.0" fill="#f4f4f4" textLength="30.7" lengthAdjust="spacingAndGlyphs" font-weight="bold" >10/03</text>
<text x="1190.9" y="751.0" fill="#f4f4f4" textLength="30.7" lengthAdjust="spacingAndGlyphs" font-weight="bold" >10/13</text>
<rect x="291" y="739.5" width="163" height="15.3" fill="#000"/>
<text x="292.6" y="750.7" fill="#f2a134" textLength="65.3" lengthAdjust="spacingAndGlyphs" >2025/08/20</text>
<text x="363.7" y="750.7" fill="#f2a134" textLength="29.1" lengthAdjust="spacingAndGlyphs" >19:00</text>
<text x="395.8" y="750.2" fill="#f2a134" textLength="7.0" lengthAdjust="spacingAndGlyphs" >~</text>
<text x="405.5" y="750.7" fill="#f2a134" textLength="30.3" lengthAdjust="spacingAndGlyphs" >23:00</text>
<text x="439.4" y="751.7" fill="#f2a134" font-size="13" style="font-family:'Liberation Sans','Noto Sans CJK SC',sans-serif">三</text>
<text transform="translate(1259.7,731) scale(1.06,1)" font-size="29.3" letter-spacing="2.3" fill="#dfe5ee">FX678</text>
<g shape-rendering="crispEdges" fill="#0e0e0e" stroke="#a8a8a8" stroke-width="1">
<rect x="1258.5" y="-5.5" width="13" height="14"/>
<rect x="1274.5" y="-5.5" width="13" height="14"/>
<rect x="1290.5" y="-5.5" width="13" height="14"/>
<rect x="1306.5" y="-5.5" width="13" height="14"/>
</g>
<g shape-rendering="crispEdges" fill="#a8a8a8">
<rect x="1260" y="1" width="3" height="2"/><rect x="1264" y="1" width="2" height="2"/><rect x="1267" y="1" width="3" height="2"/><rect x="1264" y="4" width="2" height="3"/>
<rect x="1278" y="0" width="1" height="6"/><rect x="1276" y="5" width="10" height="1"/><rect x="1277" y="4" width="1" height="3"/><rect x="1284" y="4" width="1" height="3"/><rect x="1281" y="0" width="3" height="2"/><rect x="1283" y="0" width="1" height="4"/>
<rect x="1294" y="0" width="1" height="6"/><rect x="1292" y="5" width="10" height="1"/><rect x="1293" y="4" width="1" height="3"/><rect x="1300" y="4" width="1" height="3"/><path d="M1297 0H1299L1301 2L1297 4Z"/>
<rect x="1308" y="0" width="1" height="6"/><rect x="1308" y="5" width="4" height="1"/><rect x="1311" y="1" width="1" height="5"/><rect x="1311" y="1" width="7" height="1"/><rect x="1313" y="0" width="1" height="3"/><rect x="1316" y="0" width="1" height="3"/>
</g>
<g><circle cx="4" cy="536" r="3.6" fill="#000"/><circle cx="4" cy="536" r="2.8" fill="#fff"/><rect x="2.5" y="534.5" width="3" height="3" fill="#ff0000"/><rect x="3" y="534" width="2" height="4" fill="#ff0000"/><rect x="2" y="535" width="4" height="2" fill="#ff0000"/>
<g stroke="#ff0000" stroke-width="1"><path d="M3.5 529V531M3.5 541V543M9 535.5H11.2M8 531.8L10.2 529.8M8 540.2L10.2 542.2"/></g></g>
</svg>
</body></html>
